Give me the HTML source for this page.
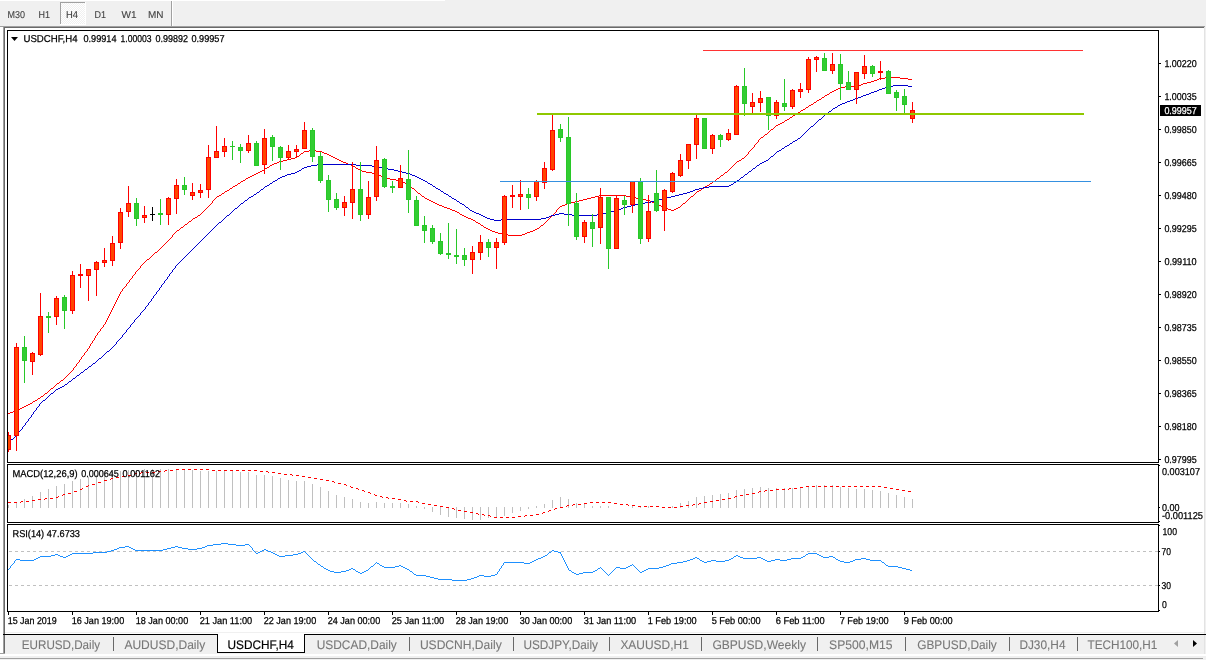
<!DOCTYPE html>
<html lang="en"><head><meta charset="utf-8"><title>USDCHF,H4</title>
<style>
html,body{margin:0;padding:0;background:#f0f0f0;overflow:hidden}
body{width:1206px;height:660px;position:relative;font-family:'Liberation Sans', sans-serif}
svg{position:absolute;left:0;top:0;display:block}
text{font-family:'Liberation Sans', sans-serif;text-rendering:geometricPrecision}
</style></head><body>
<svg width="1206" height="660" viewBox="0 0 1206 660">
<g shape-rendering="crispEdges">
<rect x="0" y="0" width="1206" height="660" fill="#f0f0f0"/>
<rect x="0" y="0" width="445" height="1" fill="#ffffff"/>
<rect x="5" y="28" width="1199" height="606" fill="#ffffff"/>
<rect x="0" y="27" width="3" height="626" fill="#ffffff"/>
<rect x="0" y="26" width="1205" height="1" fill="#a0a0a0"/>
<rect x="4" y="27" width="1200" height="1" fill="#696969"/>
<rect x="3" y="26" width="1" height="627" fill="#a0a0a0"/>
<rect x="4" y="27" width="1" height="626" fill="#696969"/>
<rect x="0" y="653" width="5" height="1" fill="#a0a0a0"/>
<rect x="1204" y="27" width="1" height="627" fill="#e3e3e3"/>
<rect x="5" y="632" width="1199" height="1" fill="#f0f0f0"/>
<rect x="3" y="634" width="1203" height="1" fill="#000000"/>
<rect x="5" y="635" width="1199" height="19" fill="#f0f0f0"/>
<rect x="0" y="654" width="1206" height="2" fill="#ffffff"/>
<rect x="0" y="658" width="1203" height="1" fill="#a0a0a0"/>
<defs><pattern id="chk" x="0" y="0" width="2" height="2" patternUnits="userSpaceOnUse"><rect width="2" height="2" fill="#f0f0f0"/><rect x="0" y="0" width="1" height="1" fill="#fff"/><rect x="1" y="1" width="1" height="1" fill="#fff"/></pattern></defs>
<rect x="61" y="3" width="24" height="21" fill="url(#chk)"/>
<rect x="60" y="2" width="25" height="1" fill="#a0a0a0"/>
<rect x="60" y="2" width="1" height="22" fill="#a0a0a0"/>
<rect x="85" y="2" width="1" height="23" fill="#ffffff"/>
<rect x="60" y="24" width="26" height="1" fill="#ffffff"/>
<rect x="171" y="1" width="1" height="25" fill="#a0a0a0"/>
<rect x="172" y="1" width="1" height="25" fill="#ffffff"/>
<rect x="7" y="30" width="1152" height="1" fill="#000"/>
<rect x="7" y="462" width="1152" height="1" fill="#000"/>
<rect x="7" y="30" width="1" height="433" fill="#000"/>
<rect x="1158" y="30" width="1" height="433" fill="#000"/>
<rect x="7" y="464" width="1152" height="1" fill="#000"/>
<rect x="7" y="522" width="1152" height="1" fill="#000"/>
<rect x="7" y="464" width="1" height="59" fill="#000"/>
<rect x="1158" y="464" width="1" height="59" fill="#000"/>
<rect x="7" y="524" width="1152" height="1" fill="#000"/>
<rect x="7" y="611" width="1152" height="1" fill="#000"/>
<rect x="7" y="524" width="1" height="88" fill="#000"/>
<rect x="1158" y="524" width="1" height="88" fill="#000"/>
<rect x="1159" y="63" width="2" height="1" fill="#000"/>
<rect x="1159" y="96" width="2" height="1" fill="#000"/>
<rect x="1159" y="129" width="2" height="1" fill="#000"/>
<rect x="1159" y="162" width="2" height="1" fill="#000"/>
<rect x="1159" y="195" width="2" height="1" fill="#000"/>
<rect x="1159" y="228" width="2" height="1" fill="#000"/>
<rect x="1159" y="261" width="2" height="1" fill="#000"/>
<rect x="1159" y="294" width="2" height="1" fill="#000"/>
<rect x="1159" y="327" width="2" height="1" fill="#000"/>
<rect x="1159" y="360" width="2" height="1" fill="#000"/>
<rect x="1159" y="393" width="2" height="1" fill="#000"/>
<rect x="1159" y="426" width="2" height="1" fill="#000"/>
<rect x="1159" y="459" width="2" height="1" fill="#000"/>
<rect x="1159" y="465" width="1" height="1" fill="#000"/>
<rect x="1159" y="507" width="1" height="1" fill="#000"/>
<rect x="1159" y="521" width="1" height="1" fill="#000"/>
<rect x="1159" y="525" width="1" height="1" fill="#000"/>
<rect x="1159" y="551" width="1" height="1" fill="#000"/>
<rect x="1159" y="585" width="1" height="1" fill="#000"/>
<rect x="1159" y="610" width="1" height="1" fill="#000"/>
<rect x="8" y="612" width="1" height="3" fill="#000"/>
<rect x="72" y="612" width="1" height="3" fill="#000"/>
<rect x="136" y="612" width="1" height="3" fill="#000"/>
<rect x="200" y="612" width="1" height="3" fill="#000"/>
<rect x="264" y="612" width="1" height="3" fill="#000"/>
<rect x="328" y="612" width="1" height="3" fill="#000"/>
<rect x="392" y="612" width="1" height="3" fill="#000"/>
<rect x="456" y="612" width="1" height="3" fill="#000"/>
<rect x="520" y="612" width="1" height="3" fill="#000"/>
<rect x="584" y="612" width="1" height="3" fill="#000"/>
<rect x="648" y="612" width="1" height="3" fill="#000"/>
<rect x="712" y="612" width="1" height="3" fill="#000"/>
<rect x="776" y="612" width="1" height="3" fill="#000"/>
<rect x="840" y="612" width="1" height="3" fill="#000"/>
<rect x="904" y="612" width="1" height="3" fill="#000"/>
<rect x="9" y="551" width="3" height="1" fill="#c0c0c0"/>
<rect x="15" y="551" width="3" height="1" fill="#c0c0c0"/>
<rect x="21" y="551" width="3" height="1" fill="#c0c0c0"/>
<rect x="27" y="551" width="3" height="1" fill="#c0c0c0"/>
<rect x="33" y="551" width="3" height="1" fill="#c0c0c0"/>
<rect x="39" y="551" width="3" height="1" fill="#c0c0c0"/>
<rect x="45" y="551" width="3" height="1" fill="#c0c0c0"/>
<rect x="51" y="551" width="3" height="1" fill="#c0c0c0"/>
<rect x="57" y="551" width="3" height="1" fill="#c0c0c0"/>
<rect x="63" y="551" width="3" height="1" fill="#c0c0c0"/>
<rect x="69" y="551" width="3" height="1" fill="#c0c0c0"/>
<rect x="75" y="551" width="3" height="1" fill="#c0c0c0"/>
<rect x="81" y="551" width="3" height="1" fill="#c0c0c0"/>
<rect x="87" y="551" width="3" height="1" fill="#c0c0c0"/>
<rect x="93" y="551" width="3" height="1" fill="#c0c0c0"/>
<rect x="99" y="551" width="3" height="1" fill="#c0c0c0"/>
<rect x="105" y="551" width="3" height="1" fill="#c0c0c0"/>
<rect x="111" y="551" width="3" height="1" fill="#c0c0c0"/>
<rect x="117" y="551" width="3" height="1" fill="#c0c0c0"/>
<rect x="123" y="551" width="3" height="1" fill="#c0c0c0"/>
<rect x="129" y="551" width="3" height="1" fill="#c0c0c0"/>
<rect x="135" y="551" width="3" height="1" fill="#c0c0c0"/>
<rect x="141" y="551" width="3" height="1" fill="#c0c0c0"/>
<rect x="147" y="551" width="3" height="1" fill="#c0c0c0"/>
<rect x="153" y="551" width="3" height="1" fill="#c0c0c0"/>
<rect x="159" y="551" width="3" height="1" fill="#c0c0c0"/>
<rect x="165" y="551" width="3" height="1" fill="#c0c0c0"/>
<rect x="171" y="551" width="3" height="1" fill="#c0c0c0"/>
<rect x="177" y="551" width="3" height="1" fill="#c0c0c0"/>
<rect x="183" y="551" width="3" height="1" fill="#c0c0c0"/>
<rect x="189" y="551" width="3" height="1" fill="#c0c0c0"/>
<rect x="195" y="551" width="3" height="1" fill="#c0c0c0"/>
<rect x="201" y="551" width="3" height="1" fill="#c0c0c0"/>
<rect x="207" y="551" width="3" height="1" fill="#c0c0c0"/>
<rect x="213" y="551" width="3" height="1" fill="#c0c0c0"/>
<rect x="219" y="551" width="3" height="1" fill="#c0c0c0"/>
<rect x="225" y="551" width="3" height="1" fill="#c0c0c0"/>
<rect x="231" y="551" width="3" height="1" fill="#c0c0c0"/>
<rect x="237" y="551" width="3" height="1" fill="#c0c0c0"/>
<rect x="243" y="551" width="3" height="1" fill="#c0c0c0"/>
<rect x="249" y="551" width="3" height="1" fill="#c0c0c0"/>
<rect x="255" y="551" width="3" height="1" fill="#c0c0c0"/>
<rect x="261" y="551" width="3" height="1" fill="#c0c0c0"/>
<rect x="267" y="551" width="3" height="1" fill="#c0c0c0"/>
<rect x="273" y="551" width="3" height="1" fill="#c0c0c0"/>
<rect x="279" y="551" width="3" height="1" fill="#c0c0c0"/>
<rect x="285" y="551" width="3" height="1" fill="#c0c0c0"/>
<rect x="291" y="551" width="3" height="1" fill="#c0c0c0"/>
<rect x="297" y="551" width="3" height="1" fill="#c0c0c0"/>
<rect x="303" y="551" width="3" height="1" fill="#c0c0c0"/>
<rect x="309" y="551" width="3" height="1" fill="#c0c0c0"/>
<rect x="315" y="551" width="3" height="1" fill="#c0c0c0"/>
<rect x="321" y="551" width="3" height="1" fill="#c0c0c0"/>
<rect x="327" y="551" width="3" height="1" fill="#c0c0c0"/>
<rect x="333" y="551" width="3" height="1" fill="#c0c0c0"/>
<rect x="339" y="551" width="3" height="1" fill="#c0c0c0"/>
<rect x="345" y="551" width="3" height="1" fill="#c0c0c0"/>
<rect x="351" y="551" width="3" height="1" fill="#c0c0c0"/>
<rect x="357" y="551" width="3" height="1" fill="#c0c0c0"/>
<rect x="363" y="551" width="3" height="1" fill="#c0c0c0"/>
<rect x="369" y="551" width="3" height="1" fill="#c0c0c0"/>
<rect x="375" y="551" width="3" height="1" fill="#c0c0c0"/>
<rect x="381" y="551" width="3" height="1" fill="#c0c0c0"/>
<rect x="387" y="551" width="3" height="1" fill="#c0c0c0"/>
<rect x="393" y="551" width="3" height="1" fill="#c0c0c0"/>
<rect x="399" y="551" width="3" height="1" fill="#c0c0c0"/>
<rect x="405" y="551" width="3" height="1" fill="#c0c0c0"/>
<rect x="411" y="551" width="3" height="1" fill="#c0c0c0"/>
<rect x="417" y="551" width="3" height="1" fill="#c0c0c0"/>
<rect x="423" y="551" width="3" height="1" fill="#c0c0c0"/>
<rect x="429" y="551" width="3" height="1" fill="#c0c0c0"/>
<rect x="435" y="551" width="3" height="1" fill="#c0c0c0"/>
<rect x="441" y="551" width="3" height="1" fill="#c0c0c0"/>
<rect x="447" y="551" width="3" height="1" fill="#c0c0c0"/>
<rect x="453" y="551" width="3" height="1" fill="#c0c0c0"/>
<rect x="459" y="551" width="3" height="1" fill="#c0c0c0"/>
<rect x="465" y="551" width="3" height="1" fill="#c0c0c0"/>
<rect x="471" y="551" width="3" height="1" fill="#c0c0c0"/>
<rect x="477" y="551" width="3" height="1" fill="#c0c0c0"/>
<rect x="483" y="551" width="3" height="1" fill="#c0c0c0"/>
<rect x="489" y="551" width="3" height="1" fill="#c0c0c0"/>
<rect x="495" y="551" width="3" height="1" fill="#c0c0c0"/>
<rect x="501" y="551" width="3" height="1" fill="#c0c0c0"/>
<rect x="507" y="551" width="3" height="1" fill="#c0c0c0"/>
<rect x="513" y="551" width="3" height="1" fill="#c0c0c0"/>
<rect x="519" y="551" width="3" height="1" fill="#c0c0c0"/>
<rect x="525" y="551" width="3" height="1" fill="#c0c0c0"/>
<rect x="531" y="551" width="3" height="1" fill="#c0c0c0"/>
<rect x="537" y="551" width="3" height="1" fill="#c0c0c0"/>
<rect x="543" y="551" width="3" height="1" fill="#c0c0c0"/>
<rect x="549" y="551" width="3" height="1" fill="#c0c0c0"/>
<rect x="555" y="551" width="3" height="1" fill="#c0c0c0"/>
<rect x="561" y="551" width="3" height="1" fill="#c0c0c0"/>
<rect x="567" y="551" width="3" height="1" fill="#c0c0c0"/>
<rect x="573" y="551" width="3" height="1" fill="#c0c0c0"/>
<rect x="579" y="551" width="3" height="1" fill="#c0c0c0"/>
<rect x="585" y="551" width="3" height="1" fill="#c0c0c0"/>
<rect x="591" y="551" width="3" height="1" fill="#c0c0c0"/>
<rect x="597" y="551" width="3" height="1" fill="#c0c0c0"/>
<rect x="603" y="551" width="3" height="1" fill="#c0c0c0"/>
<rect x="609" y="551" width="3" height="1" fill="#c0c0c0"/>
<rect x="615" y="551" width="3" height="1" fill="#c0c0c0"/>
<rect x="621" y="551" width="3" height="1" fill="#c0c0c0"/>
<rect x="627" y="551" width="3" height="1" fill="#c0c0c0"/>
<rect x="633" y="551" width="3" height="1" fill="#c0c0c0"/>
<rect x="639" y="551" width="3" height="1" fill="#c0c0c0"/>
<rect x="645" y="551" width="3" height="1" fill="#c0c0c0"/>
<rect x="651" y="551" width="3" height="1" fill="#c0c0c0"/>
<rect x="657" y="551" width="3" height="1" fill="#c0c0c0"/>
<rect x="663" y="551" width="3" height="1" fill="#c0c0c0"/>
<rect x="669" y="551" width="3" height="1" fill="#c0c0c0"/>
<rect x="675" y="551" width="3" height="1" fill="#c0c0c0"/>
<rect x="681" y="551" width="3" height="1" fill="#c0c0c0"/>
<rect x="687" y="551" width="3" height="1" fill="#c0c0c0"/>
<rect x="693" y="551" width="3" height="1" fill="#c0c0c0"/>
<rect x="699" y="551" width="3" height="1" fill="#c0c0c0"/>
<rect x="705" y="551" width="3" height="1" fill="#c0c0c0"/>
<rect x="711" y="551" width="3" height="1" fill="#c0c0c0"/>
<rect x="717" y="551" width="3" height="1" fill="#c0c0c0"/>
<rect x="723" y="551" width="3" height="1" fill="#c0c0c0"/>
<rect x="729" y="551" width="3" height="1" fill="#c0c0c0"/>
<rect x="735" y="551" width="3" height="1" fill="#c0c0c0"/>
<rect x="741" y="551" width="3" height="1" fill="#c0c0c0"/>
<rect x="747" y="551" width="3" height="1" fill="#c0c0c0"/>
<rect x="753" y="551" width="3" height="1" fill="#c0c0c0"/>
<rect x="759" y="551" width="3" height="1" fill="#c0c0c0"/>
<rect x="765" y="551" width="3" height="1" fill="#c0c0c0"/>
<rect x="771" y="551" width="3" height="1" fill="#c0c0c0"/>
<rect x="777" y="551" width="3" height="1" fill="#c0c0c0"/>
<rect x="783" y="551" width="3" height="1" fill="#c0c0c0"/>
<rect x="789" y="551" width="3" height="1" fill="#c0c0c0"/>
<rect x="795" y="551" width="3" height="1" fill="#c0c0c0"/>
<rect x="801" y="551" width="3" height="1" fill="#c0c0c0"/>
<rect x="807" y="551" width="3" height="1" fill="#c0c0c0"/>
<rect x="813" y="551" width="3" height="1" fill="#c0c0c0"/>
<rect x="819" y="551" width="3" height="1" fill="#c0c0c0"/>
<rect x="825" y="551" width="3" height="1" fill="#c0c0c0"/>
<rect x="831" y="551" width="3" height="1" fill="#c0c0c0"/>
<rect x="837" y="551" width="3" height="1" fill="#c0c0c0"/>
<rect x="843" y="551" width="3" height="1" fill="#c0c0c0"/>
<rect x="849" y="551" width="3" height="1" fill="#c0c0c0"/>
<rect x="855" y="551" width="3" height="1" fill="#c0c0c0"/>
<rect x="861" y="551" width="3" height="1" fill="#c0c0c0"/>
<rect x="867" y="551" width="3" height="1" fill="#c0c0c0"/>
<rect x="873" y="551" width="3" height="1" fill="#c0c0c0"/>
<rect x="879" y="551" width="3" height="1" fill="#c0c0c0"/>
<rect x="885" y="551" width="3" height="1" fill="#c0c0c0"/>
<rect x="891" y="551" width="3" height="1" fill="#c0c0c0"/>
<rect x="897" y="551" width="3" height="1" fill="#c0c0c0"/>
<rect x="903" y="551" width="3" height="1" fill="#c0c0c0"/>
<rect x="909" y="551" width="3" height="1" fill="#c0c0c0"/>
<rect x="915" y="551" width="3" height="1" fill="#c0c0c0"/>
<rect x="921" y="551" width="3" height="1" fill="#c0c0c0"/>
<rect x="927" y="551" width="3" height="1" fill="#c0c0c0"/>
<rect x="933" y="551" width="3" height="1" fill="#c0c0c0"/>
<rect x="939" y="551" width="3" height="1" fill="#c0c0c0"/>
<rect x="945" y="551" width="3" height="1" fill="#c0c0c0"/>
<rect x="951" y="551" width="3" height="1" fill="#c0c0c0"/>
<rect x="957" y="551" width="3" height="1" fill="#c0c0c0"/>
<rect x="963" y="551" width="3" height="1" fill="#c0c0c0"/>
<rect x="969" y="551" width="3" height="1" fill="#c0c0c0"/>
<rect x="975" y="551" width="3" height="1" fill="#c0c0c0"/>
<rect x="981" y="551" width="3" height="1" fill="#c0c0c0"/>
<rect x="987" y="551" width="3" height="1" fill="#c0c0c0"/>
<rect x="993" y="551" width="3" height="1" fill="#c0c0c0"/>
<rect x="999" y="551" width="3" height="1" fill="#c0c0c0"/>
<rect x="1005" y="551" width="3" height="1" fill="#c0c0c0"/>
<rect x="1011" y="551" width="3" height="1" fill="#c0c0c0"/>
<rect x="1017" y="551" width="3" height="1" fill="#c0c0c0"/>
<rect x="1023" y="551" width="3" height="1" fill="#c0c0c0"/>
<rect x="1029" y="551" width="3" height="1" fill="#c0c0c0"/>
<rect x="1035" y="551" width="3" height="1" fill="#c0c0c0"/>
<rect x="1041" y="551" width="3" height="1" fill="#c0c0c0"/>
<rect x="1047" y="551" width="3" height="1" fill="#c0c0c0"/>
<rect x="1053" y="551" width="3" height="1" fill="#c0c0c0"/>
<rect x="1059" y="551" width="3" height="1" fill="#c0c0c0"/>
<rect x="1065" y="551" width="3" height="1" fill="#c0c0c0"/>
<rect x="1071" y="551" width="3" height="1" fill="#c0c0c0"/>
<rect x="1077" y="551" width="3" height="1" fill="#c0c0c0"/>
<rect x="1083" y="551" width="3" height="1" fill="#c0c0c0"/>
<rect x="1089" y="551" width="3" height="1" fill="#c0c0c0"/>
<rect x="1095" y="551" width="3" height="1" fill="#c0c0c0"/>
<rect x="1101" y="551" width="3" height="1" fill="#c0c0c0"/>
<rect x="1107" y="551" width="3" height="1" fill="#c0c0c0"/>
<rect x="1113" y="551" width="3" height="1" fill="#c0c0c0"/>
<rect x="1119" y="551" width="3" height="1" fill="#c0c0c0"/>
<rect x="1125" y="551" width="3" height="1" fill="#c0c0c0"/>
<rect x="1131" y="551" width="3" height="1" fill="#c0c0c0"/>
<rect x="1137" y="551" width="3" height="1" fill="#c0c0c0"/>
<rect x="1143" y="551" width="3" height="1" fill="#c0c0c0"/>
<rect x="1149" y="551" width="3" height="1" fill="#c0c0c0"/>
<rect x="1155" y="551" width="3" height="1" fill="#c0c0c0"/>
<rect x="9" y="585" width="3" height="1" fill="#c0c0c0"/>
<rect x="15" y="585" width="3" height="1" fill="#c0c0c0"/>
<rect x="21" y="585" width="3" height="1" fill="#c0c0c0"/>
<rect x="27" y="585" width="3" height="1" fill="#c0c0c0"/>
<rect x="33" y="585" width="3" height="1" fill="#c0c0c0"/>
<rect x="39" y="585" width="3" height="1" fill="#c0c0c0"/>
<rect x="45" y="585" width="3" height="1" fill="#c0c0c0"/>
<rect x="51" y="585" width="3" height="1" fill="#c0c0c0"/>
<rect x="57" y="585" width="3" height="1" fill="#c0c0c0"/>
<rect x="63" y="585" width="3" height="1" fill="#c0c0c0"/>
<rect x="69" y="585" width="3" height="1" fill="#c0c0c0"/>
<rect x="75" y="585" width="3" height="1" fill="#c0c0c0"/>
<rect x="81" y="585" width="3" height="1" fill="#c0c0c0"/>
<rect x="87" y="585" width="3" height="1" fill="#c0c0c0"/>
<rect x="93" y="585" width="3" height="1" fill="#c0c0c0"/>
<rect x="99" y="585" width="3" height="1" fill="#c0c0c0"/>
<rect x="105" y="585" width="3" height="1" fill="#c0c0c0"/>
<rect x="111" y="585" width="3" height="1" fill="#c0c0c0"/>
<rect x="117" y="585" width="3" height="1" fill="#c0c0c0"/>
<rect x="123" y="585" width="3" height="1" fill="#c0c0c0"/>
<rect x="129" y="585" width="3" height="1" fill="#c0c0c0"/>
<rect x="135" y="585" width="3" height="1" fill="#c0c0c0"/>
<rect x="141" y="585" width="3" height="1" fill="#c0c0c0"/>
<rect x="147" y="585" width="3" height="1" fill="#c0c0c0"/>
<rect x="153" y="585" width="3" height="1" fill="#c0c0c0"/>
<rect x="159" y="585" width="3" height="1" fill="#c0c0c0"/>
<rect x="165" y="585" width="3" height="1" fill="#c0c0c0"/>
<rect x="171" y="585" width="3" height="1" fill="#c0c0c0"/>
<rect x="177" y="585" width="3" height="1" fill="#c0c0c0"/>
<rect x="183" y="585" width="3" height="1" fill="#c0c0c0"/>
<rect x="189" y="585" width="3" height="1" fill="#c0c0c0"/>
<rect x="195" y="585" width="3" height="1" fill="#c0c0c0"/>
<rect x="201" y="585" width="3" height="1" fill="#c0c0c0"/>
<rect x="207" y="585" width="3" height="1" fill="#c0c0c0"/>
<rect x="213" y="585" width="3" height="1" fill="#c0c0c0"/>
<rect x="219" y="585" width="3" height="1" fill="#c0c0c0"/>
<rect x="225" y="585" width="3" height="1" fill="#c0c0c0"/>
<rect x="231" y="585" width="3" height="1" fill="#c0c0c0"/>
<rect x="237" y="585" width="3" height="1" fill="#c0c0c0"/>
<rect x="243" y="585" width="3" height="1" fill="#c0c0c0"/>
<rect x="249" y="585" width="3" height="1" fill="#c0c0c0"/>
<rect x="255" y="585" width="3" height="1" fill="#c0c0c0"/>
<rect x="261" y="585" width="3" height="1" fill="#c0c0c0"/>
<rect x="267" y="585" width="3" height="1" fill="#c0c0c0"/>
<rect x="273" y="585" width="3" height="1" fill="#c0c0c0"/>
<rect x="279" y="585" width="3" height="1" fill="#c0c0c0"/>
<rect x="285" y="585" width="3" height="1" fill="#c0c0c0"/>
<rect x="291" y="585" width="3" height="1" fill="#c0c0c0"/>
<rect x="297" y="585" width="3" height="1" fill="#c0c0c0"/>
<rect x="303" y="585" width="3" height="1" fill="#c0c0c0"/>
<rect x="309" y="585" width="3" height="1" fill="#c0c0c0"/>
<rect x="315" y="585" width="3" height="1" fill="#c0c0c0"/>
<rect x="321" y="585" width="3" height="1" fill="#c0c0c0"/>
<rect x="327" y="585" width="3" height="1" fill="#c0c0c0"/>
<rect x="333" y="585" width="3" height="1" fill="#c0c0c0"/>
<rect x="339" y="585" width="3" height="1" fill="#c0c0c0"/>
<rect x="345" y="585" width="3" height="1" fill="#c0c0c0"/>
<rect x="351" y="585" width="3" height="1" fill="#c0c0c0"/>
<rect x="357" y="585" width="3" height="1" fill="#c0c0c0"/>
<rect x="363" y="585" width="3" height="1" fill="#c0c0c0"/>
<rect x="369" y="585" width="3" height="1" fill="#c0c0c0"/>
<rect x="375" y="585" width="3" height="1" fill="#c0c0c0"/>
<rect x="381" y="585" width="3" height="1" fill="#c0c0c0"/>
<rect x="387" y="585" width="3" height="1" fill="#c0c0c0"/>
<rect x="393" y="585" width="3" height="1" fill="#c0c0c0"/>
<rect x="399" y="585" width="3" height="1" fill="#c0c0c0"/>
<rect x="405" y="585" width="3" height="1" fill="#c0c0c0"/>
<rect x="411" y="585" width="3" height="1" fill="#c0c0c0"/>
<rect x="417" y="585" width="3" height="1" fill="#c0c0c0"/>
<rect x="423" y="585" width="3" height="1" fill="#c0c0c0"/>
<rect x="429" y="585" width="3" height="1" fill="#c0c0c0"/>
<rect x="435" y="585" width="3" height="1" fill="#c0c0c0"/>
<rect x="441" y="585" width="3" height="1" fill="#c0c0c0"/>
<rect x="447" y="585" width="3" height="1" fill="#c0c0c0"/>
<rect x="453" y="585" width="3" height="1" fill="#c0c0c0"/>
<rect x="459" y="585" width="3" height="1" fill="#c0c0c0"/>
<rect x="465" y="585" width="3" height="1" fill="#c0c0c0"/>
<rect x="471" y="585" width="3" height="1" fill="#c0c0c0"/>
<rect x="477" y="585" width="3" height="1" fill="#c0c0c0"/>
<rect x="483" y="585" width="3" height="1" fill="#c0c0c0"/>
<rect x="489" y="585" width="3" height="1" fill="#c0c0c0"/>
<rect x="495" y="585" width="3" height="1" fill="#c0c0c0"/>
<rect x="501" y="585" width="3" height="1" fill="#c0c0c0"/>
<rect x="507" y="585" width="3" height="1" fill="#c0c0c0"/>
<rect x="513" y="585" width="3" height="1" fill="#c0c0c0"/>
<rect x="519" y="585" width="3" height="1" fill="#c0c0c0"/>
<rect x="525" y="585" width="3" height="1" fill="#c0c0c0"/>
<rect x="531" y="585" width="3" height="1" fill="#c0c0c0"/>
<rect x="537" y="585" width="3" height="1" fill="#c0c0c0"/>
<rect x="543" y="585" width="3" height="1" fill="#c0c0c0"/>
<rect x="549" y="585" width="3" height="1" fill="#c0c0c0"/>
<rect x="555" y="585" width="3" height="1" fill="#c0c0c0"/>
<rect x="561" y="585" width="3" height="1" fill="#c0c0c0"/>
<rect x="567" y="585" width="3" height="1" fill="#c0c0c0"/>
<rect x="573" y="585" width="3" height="1" fill="#c0c0c0"/>
<rect x="579" y="585" width="3" height="1" fill="#c0c0c0"/>
<rect x="585" y="585" width="3" height="1" fill="#c0c0c0"/>
<rect x="591" y="585" width="3" height="1" fill="#c0c0c0"/>
<rect x="597" y="585" width="3" height="1" fill="#c0c0c0"/>
<rect x="603" y="585" width="3" height="1" fill="#c0c0c0"/>
<rect x="609" y="585" width="3" height="1" fill="#c0c0c0"/>
<rect x="615" y="585" width="3" height="1" fill="#c0c0c0"/>
<rect x="621" y="585" width="3" height="1" fill="#c0c0c0"/>
<rect x="627" y="585" width="3" height="1" fill="#c0c0c0"/>
<rect x="633" y="585" width="3" height="1" fill="#c0c0c0"/>
<rect x="639" y="585" width="3" height="1" fill="#c0c0c0"/>
<rect x="645" y="585" width="3" height="1" fill="#c0c0c0"/>
<rect x="651" y="585" width="3" height="1" fill="#c0c0c0"/>
<rect x="657" y="585" width="3" height="1" fill="#c0c0c0"/>
<rect x="663" y="585" width="3" height="1" fill="#c0c0c0"/>
<rect x="669" y="585" width="3" height="1" fill="#c0c0c0"/>
<rect x="675" y="585" width="3" height="1" fill="#c0c0c0"/>
<rect x="681" y="585" width="3" height="1" fill="#c0c0c0"/>
<rect x="687" y="585" width="3" height="1" fill="#c0c0c0"/>
<rect x="693" y="585" width="3" height="1" fill="#c0c0c0"/>
<rect x="699" y="585" width="3" height="1" fill="#c0c0c0"/>
<rect x="705" y="585" width="3" height="1" fill="#c0c0c0"/>
<rect x="711" y="585" width="3" height="1" fill="#c0c0c0"/>
<rect x="717" y="585" width="3" height="1" fill="#c0c0c0"/>
<rect x="723" y="585" width="3" height="1" fill="#c0c0c0"/>
<rect x="729" y="585" width="3" height="1" fill="#c0c0c0"/>
<rect x="735" y="585" width="3" height="1" fill="#c0c0c0"/>
<rect x="741" y="585" width="3" height="1" fill="#c0c0c0"/>
<rect x="747" y="585" width="3" height="1" fill="#c0c0c0"/>
<rect x="753" y="585" width="3" height="1" fill="#c0c0c0"/>
<rect x="759" y="585" width="3" height="1" fill="#c0c0c0"/>
<rect x="765" y="585" width="3" height="1" fill="#c0c0c0"/>
<rect x="771" y="585" width="3" height="1" fill="#c0c0c0"/>
<rect x="777" y="585" width="3" height="1" fill="#c0c0c0"/>
<rect x="783" y="585" width="3" height="1" fill="#c0c0c0"/>
<rect x="789" y="585" width="3" height="1" fill="#c0c0c0"/>
<rect x="795" y="585" width="3" height="1" fill="#c0c0c0"/>
<rect x="801" y="585" width="3" height="1" fill="#c0c0c0"/>
<rect x="807" y="585" width="3" height="1" fill="#c0c0c0"/>
<rect x="813" y="585" width="3" height="1" fill="#c0c0c0"/>
<rect x="819" y="585" width="3" height="1" fill="#c0c0c0"/>
<rect x="825" y="585" width="3" height="1" fill="#c0c0c0"/>
<rect x="831" y="585" width="3" height="1" fill="#c0c0c0"/>
<rect x="837" y="585" width="3" height="1" fill="#c0c0c0"/>
<rect x="843" y="585" width="3" height="1" fill="#c0c0c0"/>
<rect x="849" y="585" width="3" height="1" fill="#c0c0c0"/>
<rect x="855" y="585" width="3" height="1" fill="#c0c0c0"/>
<rect x="861" y="585" width="3" height="1" fill="#c0c0c0"/>
<rect x="867" y="585" width="3" height="1" fill="#c0c0c0"/>
<rect x="873" y="585" width="3" height="1" fill="#c0c0c0"/>
<rect x="879" y="585" width="3" height="1" fill="#c0c0c0"/>
<rect x="885" y="585" width="3" height="1" fill="#c0c0c0"/>
<rect x="891" y="585" width="3" height="1" fill="#c0c0c0"/>
<rect x="897" y="585" width="3" height="1" fill="#c0c0c0"/>
<rect x="903" y="585" width="3" height="1" fill="#c0c0c0"/>
<rect x="909" y="585" width="3" height="1" fill="#c0c0c0"/>
<rect x="915" y="585" width="3" height="1" fill="#c0c0c0"/>
<rect x="921" y="585" width="3" height="1" fill="#c0c0c0"/>
<rect x="927" y="585" width="3" height="1" fill="#c0c0c0"/>
<rect x="933" y="585" width="3" height="1" fill="#c0c0c0"/>
<rect x="939" y="585" width="3" height="1" fill="#c0c0c0"/>
<rect x="945" y="585" width="3" height="1" fill="#c0c0c0"/>
<rect x="951" y="585" width="3" height="1" fill="#c0c0c0"/>
<rect x="957" y="585" width="3" height="1" fill="#c0c0c0"/>
<rect x="963" y="585" width="3" height="1" fill="#c0c0c0"/>
<rect x="969" y="585" width="3" height="1" fill="#c0c0c0"/>
<rect x="975" y="585" width="3" height="1" fill="#c0c0c0"/>
<rect x="981" y="585" width="3" height="1" fill="#c0c0c0"/>
<rect x="987" y="585" width="3" height="1" fill="#c0c0c0"/>
<rect x="993" y="585" width="3" height="1" fill="#c0c0c0"/>
<rect x="999" y="585" width="3" height="1" fill="#c0c0c0"/>
<rect x="1005" y="585" width="3" height="1" fill="#c0c0c0"/>
<rect x="1011" y="585" width="3" height="1" fill="#c0c0c0"/>
<rect x="1017" y="585" width="3" height="1" fill="#c0c0c0"/>
<rect x="1023" y="585" width="3" height="1" fill="#c0c0c0"/>
<rect x="1029" y="585" width="3" height="1" fill="#c0c0c0"/>
<rect x="1035" y="585" width="3" height="1" fill="#c0c0c0"/>
<rect x="1041" y="585" width="3" height="1" fill="#c0c0c0"/>
<rect x="1047" y="585" width="3" height="1" fill="#c0c0c0"/>
<rect x="1053" y="585" width="3" height="1" fill="#c0c0c0"/>
<rect x="1059" y="585" width="3" height="1" fill="#c0c0c0"/>
<rect x="1065" y="585" width="3" height="1" fill="#c0c0c0"/>
<rect x="1071" y="585" width="3" height="1" fill="#c0c0c0"/>
<rect x="1077" y="585" width="3" height="1" fill="#c0c0c0"/>
<rect x="1083" y="585" width="3" height="1" fill="#c0c0c0"/>
<rect x="1089" y="585" width="3" height="1" fill="#c0c0c0"/>
<rect x="1095" y="585" width="3" height="1" fill="#c0c0c0"/>
<rect x="1101" y="585" width="3" height="1" fill="#c0c0c0"/>
<rect x="1107" y="585" width="3" height="1" fill="#c0c0c0"/>
<rect x="1113" y="585" width="3" height="1" fill="#c0c0c0"/>
<rect x="1119" y="585" width="3" height="1" fill="#c0c0c0"/>
<rect x="1125" y="585" width="3" height="1" fill="#c0c0c0"/>
<rect x="1131" y="585" width="3" height="1" fill="#c0c0c0"/>
<rect x="1137" y="585" width="3" height="1" fill="#c0c0c0"/>
<rect x="1143" y="585" width="3" height="1" fill="#c0c0c0"/>
<rect x="1149" y="585" width="3" height="1" fill="#c0c0c0"/>
<rect x="1155" y="585" width="3" height="1" fill="#c0c0c0"/>
</g>
<defs><clipPath id="cm"><rect x="8" y="31" width="1150" height="431"/></clipPath>
<clipPath id="cd"><rect x="8" y="465" width="1150" height="57"/></clipPath>
<clipPath id="cr"><rect x="8" y="525" width="1150" height="86"/></clipPath></defs>
<g shape-rendering="crispEdges" clip-path="url(#cd)">
<rect x="8" y="505" width="1" height="3" fill="#c0c0c0"/>
<rect x="16" y="503" width="1" height="5" fill="#c0c0c0"/>
<rect x="24" y="499" width="1" height="9" fill="#c0c0c0"/>
<rect x="32" y="496" width="1" height="12" fill="#c0c0c0"/>
<rect x="40" y="492" width="1" height="16" fill="#c0c0c0"/>
<rect x="48" y="489" width="1" height="19" fill="#c0c0c0"/>
<rect x="56" y="486" width="1" height="22" fill="#c0c0c0"/>
<rect x="64" y="484" width="1" height="24" fill="#c0c0c0"/>
<rect x="72" y="481" width="1" height="27" fill="#c0c0c0"/>
<rect x="80" y="479" width="1" height="29" fill="#c0c0c0"/>
<rect x="88" y="477" width="1" height="31" fill="#c0c0c0"/>
<rect x="96" y="475" width="1" height="33" fill="#c0c0c0"/>
<rect x="104" y="474" width="1" height="34" fill="#c0c0c0"/>
<rect x="112" y="472" width="1" height="36" fill="#c0c0c0"/>
<rect x="120" y="471" width="1" height="37" fill="#c0c0c0"/>
<rect x="128" y="470" width="1" height="38" fill="#c0c0c0"/>
<rect x="136" y="470" width="1" height="38" fill="#c0c0c0"/>
<rect x="144" y="469" width="1" height="39" fill="#c0c0c0"/>
<rect x="152" y="469" width="1" height="39" fill="#c0c0c0"/>
<rect x="160" y="469" width="1" height="39" fill="#c0c0c0"/>
<rect x="168" y="469" width="1" height="39" fill="#c0c0c0"/>
<rect x="176" y="469" width="1" height="39" fill="#c0c0c0"/>
<rect x="184" y="470" width="1" height="38" fill="#c0c0c0"/>
<rect x="192" y="470" width="1" height="38" fill="#c0c0c0"/>
<rect x="200" y="471" width="1" height="37" fill="#c0c0c0"/>
<rect x="208" y="471" width="1" height="37" fill="#c0c0c0"/>
<rect x="216" y="471" width="1" height="37" fill="#c0c0c0"/>
<rect x="224" y="471" width="1" height="37" fill="#c0c0c0"/>
<rect x="232" y="471" width="1" height="37" fill="#c0c0c0"/>
<rect x="240" y="472" width="1" height="36" fill="#c0c0c0"/>
<rect x="248" y="472" width="1" height="36" fill="#c0c0c0"/>
<rect x="256" y="475" width="1" height="33" fill="#c0c0c0"/>
<rect x="264" y="475" width="1" height="33" fill="#c0c0c0"/>
<rect x="272" y="476" width="1" height="32" fill="#c0c0c0"/>
<rect x="280" y="478" width="1" height="30" fill="#c0c0c0"/>
<rect x="288" y="480" width="1" height="28" fill="#c0c0c0"/>
<rect x="296" y="481" width="1" height="27" fill="#c0c0c0"/>
<rect x="304" y="481" width="1" height="27" fill="#c0c0c0"/>
<rect x="312" y="484" width="1" height="24" fill="#c0c0c0"/>
<rect x="320" y="487" width="1" height="21" fill="#c0c0c0"/>
<rect x="328" y="491" width="1" height="17" fill="#c0c0c0"/>
<rect x="336" y="495" width="1" height="13" fill="#c0c0c0"/>
<rect x="344" y="497" width="1" height="11" fill="#c0c0c0"/>
<rect x="352" y="499" width="1" height="9" fill="#c0c0c0"/>
<rect x="360" y="502" width="1" height="6" fill="#c0c0c0"/>
<rect x="368" y="503" width="1" height="5" fill="#c0c0c0"/>
<rect x="376" y="502" width="1" height="6" fill="#c0c0c0"/>
<rect x="384" y="503" width="1" height="5" fill="#c0c0c0"/>
<rect x="392" y="503" width="1" height="5" fill="#c0c0c0"/>
<rect x="400" y="503" width="1" height="5" fill="#c0c0c0"/>
<rect x="408" y="504" width="1" height="4" fill="#c0c0c0"/>
<rect x="416" y="506" width="1" height="2" fill="#c0c0c0"/>
<rect x="424" y="507" width="1" height="2" fill="#c0c0c0"/>
<rect x="432" y="507" width="1" height="5" fill="#c0c0c0"/>
<rect x="440" y="507" width="1" height="8" fill="#c0c0c0"/>
<rect x="448" y="507" width="1" height="10" fill="#c0c0c0"/>
<rect x="456" y="507" width="1" height="11" fill="#c0c0c0"/>
<rect x="464" y="507" width="1" height="12" fill="#c0c0c0"/>
<rect x="472" y="507" width="1" height="13" fill="#c0c0c0"/>
<rect x="480" y="507" width="1" height="13" fill="#c0c0c0"/>
<rect x="488" y="507" width="1" height="11" fill="#c0c0c0"/>
<rect x="496" y="507" width="1" height="11" fill="#c0c0c0"/>
<rect x="504" y="507" width="1" height="9" fill="#c0c0c0"/>
<rect x="512" y="507" width="1" height="6" fill="#c0c0c0"/>
<rect x="520" y="507" width="1" height="4" fill="#c0c0c0"/>
<rect x="528" y="507" width="1" height="2" fill="#c0c0c0"/>
<rect x="536" y="506" width="1" height="2" fill="#c0c0c0"/>
<rect x="544" y="504" width="1" height="4" fill="#c0c0c0"/>
<rect x="552" y="500" width="1" height="8" fill="#c0c0c0"/>
<rect x="560" y="497" width="1" height="11" fill="#c0c0c0"/>
<rect x="568" y="499" width="1" height="9" fill="#c0c0c0"/>
<rect x="576" y="503" width="1" height="5" fill="#c0c0c0"/>
<rect x="584" y="504" width="1" height="4" fill="#c0c0c0"/>
<rect x="592" y="506" width="1" height="2" fill="#c0c0c0"/>
<rect x="600" y="506" width="1" height="2" fill="#c0c0c0"/>
<rect x="608" y="506" width="1" height="2" fill="#c0c0c0"/>
<rect x="632" y="505" width="1" height="3" fill="#c0c0c0"/>
<rect x="640" y="506" width="1" height="2" fill="#c0c0c0"/>
<rect x="648" y="506" width="1" height="2" fill="#c0c0c0"/>
<rect x="672" y="506" width="1" height="2" fill="#c0c0c0"/>
<rect x="680" y="503" width="1" height="5" fill="#c0c0c0"/>
<rect x="688" y="501" width="1" height="7" fill="#c0c0c0"/>
<rect x="696" y="497" width="1" height="11" fill="#c0c0c0"/>
<rect x="704" y="496" width="1" height="12" fill="#c0c0c0"/>
<rect x="712" y="495" width="1" height="13" fill="#c0c0c0"/>
<rect x="720" y="494" width="1" height="14" fill="#c0c0c0"/>
<rect x="728" y="493" width="1" height="15" fill="#c0c0c0"/>
<rect x="736" y="490" width="1" height="18" fill="#c0c0c0"/>
<rect x="744" y="489" width="1" height="19" fill="#c0c0c0"/>
<rect x="752" y="488" width="1" height="20" fill="#c0c0c0"/>
<rect x="760" y="487" width="1" height="21" fill="#c0c0c0"/>
<rect x="768" y="488" width="1" height="20" fill="#c0c0c0"/>
<rect x="776" y="488" width="1" height="20" fill="#c0c0c0"/>
<rect x="784" y="488" width="1" height="20" fill="#c0c0c0"/>
<rect x="792" y="488" width="1" height="20" fill="#c0c0c0"/>
<rect x="800" y="487" width="1" height="21" fill="#c0c0c0"/>
<rect x="808" y="486" width="1" height="22" fill="#c0c0c0"/>
<rect x="816" y="485" width="1" height="23" fill="#c0c0c0"/>
<rect x="824" y="485" width="1" height="23" fill="#c0c0c0"/>
<rect x="832" y="485" width="1" height="23" fill="#c0c0c0"/>
<rect x="840" y="487" width="1" height="21" fill="#c0c0c0"/>
<rect x="848" y="488" width="1" height="20" fill="#c0c0c0"/>
<rect x="856" y="489" width="1" height="19" fill="#c0c0c0"/>
<rect x="864" y="489" width="1" height="19" fill="#c0c0c0"/>
<rect x="872" y="490" width="1" height="18" fill="#c0c0c0"/>
<rect x="880" y="491" width="1" height="17" fill="#c0c0c0"/>
<rect x="888" y="493" width="1" height="15" fill="#c0c0c0"/>
<rect x="896" y="495" width="1" height="13" fill="#c0c0c0"/>
<rect x="904" y="497" width="1" height="11" fill="#c0c0c0"/>
<rect x="912" y="499" width="1" height="9" fill="#c0c0c0"/>
</g>
<g fill="#ff0000" shape-rendering="crispEdges" clip-path="url(#cd)"><rect x="176" y="469" width="3" height="1"/><rect x="182" y="469" width="3" height="1"/><rect x="188" y="469" width="3" height="1"/><rect x="194" y="469" width="3" height="1"/><rect x="200" y="469" width="3" height="1"/><rect x="206" y="469" width="3" height="1"/><rect x="165" y="470" width="2" height="1"/><rect x="170" y="470" width="3" height="1"/><rect x="212" y="470" width="3" height="1"/><rect x="218" y="470" width="3" height="1"/><rect x="224" y="470" width="3" height="1"/><rect x="230" y="470" width="3" height="1"/><rect x="236" y="470" width="3" height="1"/><rect x="242" y="470" width="3" height="1"/><rect x="248" y="470" width="3" height="1"/><rect x="254" y="470" width="3" height="1"/><rect x="158" y="471" width="3" height="1"/><rect x="260" y="471" width="3" height="1"/><rect x="266" y="471" width="2" height="1"/><rect x="141" y="472" width="2" height="1"/><rect x="146" y="472" width="3" height="1"/><rect x="152" y="472" width="3" height="1"/><rect x="272" y="472" width="3" height="1"/><rect x="135" y="473" width="2" height="1"/><rect x="278" y="473" width="3" height="1"/><rect x="284" y="474" width="3" height="1"/><rect x="290" y="474" width="2" height="1"/><rect x="128" y="475" width="3" height="1"/><rect x="296" y="475" width="3" height="1"/><rect x="122" y="476" width="3" height="1"/><rect x="302" y="476" width="3" height="1"/><rect x="116" y="477" width="3" height="1"/><rect x="308" y="477" width="3" height="1"/><rect x="111" y="478" width="2" height="1"/><rect x="314" y="478" width="3" height="1"/><rect x="320" y="479" width="3" height="1"/><rect x="104" y="480" width="3" height="1"/><rect x="326" y="480" width="3" height="1"/><rect x="332" y="481" width="2" height="1"/><rect x="98" y="482" width="3" height="1"/><rect x="338" y="483" width="3" height="1"/><rect x="92" y="484" width="3" height="1"/><rect x="344" y="484" width="2" height="1"/><rect x="86" y="486" width="2" height="1"/><rect x="806" y="486" width="3" height="1"/><rect x="812" y="486" width="3" height="1"/><rect x="818" y="486" width="3" height="1"/><rect x="824" y="486" width="3" height="1"/><rect x="830" y="486" width="3" height="1"/><rect x="836" y="486" width="3" height="1"/><rect x="842" y="486" width="3" height="1"/><rect x="848" y="486" width="3" height="1"/><rect x="854" y="486" width="3" height="1"/><rect x="860" y="486" width="3" height="1"/><rect x="866" y="486" width="3" height="1"/><rect x="872" y="486" width="3" height="1"/><rect x="878" y="486" width="3" height="1"/><rect x="351" y="487" width="2" height="1"/><rect x="800" y="487" width="3" height="1"/><rect x="884" y="487" width="3" height="1"/><rect x="356" y="488" width="2" height="1"/><rect x="789" y="488" width="2" height="1"/><rect x="794" y="488" width="3" height="1"/><rect x="890" y="488" width="3" height="1"/><rect x="80" y="489" width="2" height="1"/><rect x="776" y="489" width="3" height="1"/><rect x="782" y="489" width="3" height="1"/><rect x="896" y="489" width="3" height="1"/><rect x="362" y="490" width="2" height="1"/><rect x="765" y="490" width="2" height="1"/><rect x="770" y="490" width="3" height="1"/><rect x="902" y="490" width="3" height="1"/><rect x="74" y="491" width="3" height="1"/><rect x="759" y="491" width="2" height="1"/><rect x="908" y="491" width="3" height="1"/><rect x="368" y="492" width="2" height="1"/><rect x="68" y="493" width="3" height="1"/><rect x="752" y="493" width="3" height="1"/><rect x="63" y="494" width="2" height="1"/><rect x="746" y="494" width="3" height="1"/><rect x="375" y="495" width="2" height="1"/><rect x="740" y="495" width="3" height="1"/><rect x="380" y="496" width="2" height="1"/><rect x="735" y="496" width="2" height="1"/><rect x="56" y="497" width="2" height="1"/><rect x="386" y="497" width="2" height="1"/><rect x="45" y="498" width="2" height="1"/><rect x="50" y="498" width="3" height="1"/><rect x="392" y="498" width="3" height="1"/><rect x="728" y="498" width="3" height="1"/><rect x="38" y="499" width="3" height="1"/><rect x="398" y="499" width="3" height="1"/><rect x="722" y="499" width="3" height="1"/><rect x="32" y="500" width="3" height="1"/><rect x="404" y="500" width="2" height="1"/><rect x="716" y="500" width="3" height="1"/><rect x="21" y="501" width="2" height="1"/><rect x="26" y="501" width="3" height="1"/><rect x="410" y="501" width="3" height="1"/><rect x="416" y="501" width="2" height="1"/><rect x="710" y="501" width="3" height="1"/><rect x="8" y="502" width="3" height="1"/><rect x="14" y="502" width="3" height="1"/><rect x="590" y="502" width="3" height="1"/><rect x="596" y="502" width="3" height="1"/><rect x="602" y="502" width="3" height="1"/><rect x="608" y="502" width="3" height="1"/><rect x="704" y="502" width="3" height="1"/><rect x="422" y="503" width="3" height="1"/><rect x="584" y="503" width="3" height="1"/><rect x="614" y="503" width="3" height="1"/><rect x="699" y="503" width="2" height="1"/><rect x="428" y="504" width="3" height="1"/><rect x="573" y="504" width="2" height="1"/><rect x="578" y="504" width="3" height="1"/><rect x="620" y="504" width="3" height="1"/><rect x="626" y="504" width="2" height="1"/><rect x="693" y="504" width="2" height="1"/><rect x="434" y="505" width="3" height="1"/><rect x="567" y="505" width="2" height="1"/><rect x="632" y="505" width="3" height="1"/><rect x="686" y="505" width="3" height="1"/><rect x="440" y="506" width="3" height="1"/><rect x="638" y="506" width="3" height="1"/><rect x="644" y="506" width="3" height="1"/><rect x="650" y="506" width="3" height="1"/><rect x="656" y="506" width="3" height="1"/><rect x="680" y="506" width="3" height="1"/><rect x="446" y="507" width="3" height="1"/><rect x="560" y="507" width="3" height="1"/><rect x="662" y="507" width="3" height="1"/><rect x="668" y="507" width="3" height="1"/><rect x="674" y="507" width="3" height="1"/><rect x="452" y="508" width="2" height="1"/><rect x="555" y="508" width="2" height="1"/><rect x="458" y="510" width="3" height="1"/><rect x="549" y="510" width="2" height="1"/><rect x="464" y="511" width="3" height="1"/><rect x="470" y="512" width="3" height="1"/><rect x="543" y="512" width="2" height="1"/><rect x="476" y="513" width="2" height="1"/><rect x="482" y="514" width="2" height="1"/><rect x="536" y="514" width="3" height="1"/><rect x="488" y="515" width="2" height="1"/><rect x="525" y="515" width="2" height="1"/><rect x="530" y="515" width="3" height="1"/><rect x="518" y="516" width="3" height="1"/><rect x="494" y="517" width="3" height="1"/><rect x="500" y="517" width="3" height="1"/><rect x="506" y="517" width="3" height="1"/><rect x="512" y="517" width="3" height="1"/><rect x="164" y="471" width="1" height="1"/><rect x="268" y="472" width="1" height="1"/><rect x="140" y="473" width="1" height="1"/><rect x="134" y="474" width="1" height="1"/><rect x="292" y="475" width="1" height="1"/><rect x="110" y="479" width="1" height="1"/><rect x="334" y="482" width="1" height="1"/><rect x="88" y="485" width="1" height="1"/><rect x="346" y="485" width="1" height="1"/><rect x="350" y="486" width="1" height="1"/><rect x="82" y="488" width="1" height="1"/><rect x="358" y="489" width="1" height="1"/><rect x="788" y="489" width="1" height="1"/><rect x="364" y="491" width="1" height="1"/><rect x="764" y="491" width="1" height="1"/><rect x="758" y="492" width="1" height="1"/><rect x="370" y="493" width="1" height="1"/><rect x="374" y="494" width="1" height="1"/><rect x="62" y="495" width="1" height="1"/><rect x="58" y="496" width="1" height="1"/><rect x="382" y="497" width="1" height="1"/><rect x="734" y="497" width="1" height="1"/><rect x="388" y="498" width="1" height="1"/><rect x="44" y="499" width="1" height="1"/><rect x="406" y="501" width="1" height="1"/><rect x="20" y="502" width="1" height="1"/><rect x="418" y="502" width="1" height="1"/><rect x="698" y="504" width="1" height="1"/><rect x="572" y="505" width="1" height="1"/><rect x="628" y="505" width="1" height="1"/><rect x="692" y="505" width="1" height="1"/><rect x="566" y="506" width="1" height="1"/><rect x="454" y="509" width="1" height="1"/><rect x="554" y="509" width="1" height="1"/><rect x="548" y="511" width="1" height="1"/><rect x="542" y="513" width="1" height="1"/><rect x="478" y="514" width="1" height="1"/><rect x="484" y="515" width="1" height="1"/><rect x="490" y="516" width="1" height="1"/><rect x="524" y="516" width="1" height="1"/></g>
<g fill="#1e90ff" shape-rendering="crispEdges" clip-path="url(#cr)"><rect x="221" y="543" width="7" height="1"/><rect x="213" y="544" width="8" height="1"/><rect x="228" y="544" width="8" height="1"/><rect x="245" y="544" width="4" height="1"/><rect x="207" y="545" width="6" height="1"/><rect x="236" y="545" width="9" height="1"/><rect x="125" y="546" width="4" height="1"/><rect x="175" y="546" width="3" height="1"/><rect x="205" y="546" width="2" height="1"/><rect x="119" y="547" width="6" height="1"/><rect x="129" y="547" width="2" height="1"/><rect x="171" y="547" width="4" height="1"/><rect x="178" y="547" width="4" height="1"/><rect x="202" y="547" width="3" height="1"/><rect x="117" y="548" width="2" height="1"/><rect x="131" y="548" width="2" height="1"/><rect x="167" y="548" width="4" height="1"/><rect x="182" y="548" width="6" height="1"/><rect x="197" y="548" width="5" height="1"/><rect x="114" y="549" width="3" height="1"/><rect x="133" y="549" width="2" height="1"/><rect x="163" y="549" width="4" height="1"/><rect x="188" y="549" width="9" height="1"/><rect x="264" y="549" width="2" height="1"/><rect x="111" y="550" width="3" height="1"/><rect x="135" y="550" width="28" height="1"/><rect x="262" y="550" width="2" height="1"/><rect x="266" y="550" width="2" height="1"/><rect x="552" y="550" width="2" height="1"/><rect x="107" y="551" width="4" height="1"/><rect x="260" y="551" width="2" height="1"/><rect x="268" y="551" width="3" height="1"/><rect x="303" y="551" width="2" height="1"/><rect x="554" y="551" width="4" height="1"/><rect x="93" y="552" width="14" height="1"/><rect x="258" y="552" width="2" height="1"/><rect x="271" y="552" width="2" height="1"/><rect x="301" y="552" width="2" height="1"/><rect x="549" y="552" width="2" height="1"/><rect x="558" y="552" width="3" height="1"/><rect x="72" y="553" width="21" height="1"/><rect x="256" y="553" width="2" height="1"/><rect x="273" y="553" width="2" height="1"/><rect x="298" y="553" width="3" height="1"/><rect x="808" y="553" width="9" height="1"/><rect x="55" y="554" width="3" height="1"/><rect x="70" y="554" width="2" height="1"/><rect x="275" y="554" width="2" height="1"/><rect x="293" y="554" width="5" height="1"/><rect x="806" y="554" width="2" height="1"/><rect x="817" y="554" width="2" height="1"/><rect x="51" y="555" width="4" height="1"/><rect x="58" y="555" width="2" height="1"/><rect x="68" y="555" width="2" height="1"/><rect x="277" y="555" width="2" height="1"/><rect x="285" y="555" width="8" height="1"/><rect x="545" y="555" width="2" height="1"/><rect x="736" y="555" width="2" height="1"/><rect x="819" y="555" width="2" height="1"/><rect x="40" y="556" width="11" height="1"/><rect x="60" y="556" width="3" height="1"/><rect x="66" y="556" width="2" height="1"/><rect x="279" y="556" width="6" height="1"/><rect x="543" y="556" width="2" height="1"/><rect x="734" y="556" width="2" height="1"/><rect x="738" y="556" width="2" height="1"/><rect x="803" y="556" width="2" height="1"/><rect x="821" y="556" width="2" height="1"/><rect x="829" y="556" width="4" height="1"/><rect x="38" y="557" width="2" height="1"/><rect x="63" y="557" width="3" height="1"/><rect x="541" y="557" width="2" height="1"/><rect x="695" y="557" width="2" height="1"/><rect x="740" y="557" width="3" height="1"/><rect x="757" y="557" width="4" height="1"/><rect x="801" y="557" width="2" height="1"/><rect x="823" y="557" width="6" height="1"/><rect x="833" y="557" width="2" height="1"/><rect x="36" y="558" width="2" height="1"/><rect x="538" y="558" width="3" height="1"/><rect x="693" y="558" width="2" height="1"/><rect x="697" y="558" width="2" height="1"/><rect x="731" y="558" width="2" height="1"/><rect x="743" y="558" width="14" height="1"/><rect x="761" y="558" width="2" height="1"/><rect x="791" y="558" width="10" height="1"/><rect x="861" y="558" width="5" height="1"/><rect x="16" y="559" width="4" height="1"/><rect x="34" y="559" width="2" height="1"/><rect x="536" y="559" width="2" height="1"/><rect x="690" y="559" width="3" height="1"/><rect x="729" y="559" width="2" height="1"/><rect x="763" y="559" width="2" height="1"/><rect x="775" y="559" width="5" height="1"/><rect x="787" y="559" width="4" height="1"/><rect x="836" y="559" width="2" height="1"/><rect x="855" y="559" width="6" height="1"/><rect x="866" y="559" width="4" height="1"/><rect x="20" y="560" width="14" height="1"/><rect x="534" y="560" width="2" height="1"/><rect x="687" y="560" width="3" height="1"/><rect x="700" y="560" width="2" height="1"/><rect x="711" y="560" width="5" height="1"/><rect x="725" y="560" width="4" height="1"/><rect x="765" y="560" width="2" height="1"/><rect x="771" y="560" width="4" height="1"/><rect x="780" y="560" width="7" height="1"/><rect x="838" y="560" width="2" height="1"/><rect x="853" y="560" width="2" height="1"/><rect x="870" y="560" width="11" height="1"/><rect x="314" y="561" width="2" height="1"/><rect x="532" y="561" width="2" height="1"/><rect x="683" y="561" width="4" height="1"/><rect x="702" y="561" width="2" height="1"/><rect x="707" y="561" width="4" height="1"/><rect x="716" y="561" width="9" height="1"/><rect x="767" y="561" width="4" height="1"/><rect x="840" y="561" width="4" height="1"/><rect x="850" y="561" width="3" height="1"/><rect x="504" y="562" width="20" height="1"/><rect x="530" y="562" width="2" height="1"/><rect x="677" y="562" width="6" height="1"/><rect x="704" y="562" width="3" height="1"/><rect x="844" y="562" width="6" height="1"/><rect x="882" y="562" width="2" height="1"/><rect x="377" y="563" width="2" height="1"/><rect x="524" y="563" width="6" height="1"/><rect x="671" y="563" width="6" height="1"/><rect x="318" y="564" width="2" height="1"/><rect x="669" y="564" width="2" height="1"/><rect x="380" y="565" width="2" height="1"/><rect x="399" y="565" width="2" height="1"/><rect x="630" y="565" width="2" height="1"/><rect x="666" y="565" width="3" height="1"/><rect x="886" y="565" width="2" height="1"/><rect x="321" y="566" width="2" height="1"/><rect x="371" y="566" width="2" height="1"/><rect x="382" y="566" width="2" height="1"/><rect x="395" y="566" width="4" height="1"/><rect x="401" y="566" width="2" height="1"/><rect x="628" y="566" width="2" height="1"/><rect x="663" y="566" width="3" height="1"/><rect x="888" y="566" width="10" height="1"/><rect x="384" y="567" width="11" height="1"/><rect x="403" y="567" width="2" height="1"/><rect x="616" y="567" width="4" height="1"/><rect x="626" y="567" width="2" height="1"/><rect x="659" y="567" width="4" height="1"/><rect x="898" y="567" width="4" height="1"/><rect x="324" y="568" width="2" height="1"/><rect x="351" y="568" width="2" height="1"/><rect x="405" y="568" width="2" height="1"/><rect x="598" y="568" width="2" height="1"/><rect x="620" y="568" width="6" height="1"/><rect x="648" y="568" width="11" height="1"/><rect x="902" y="568" width="4" height="1"/><rect x="326" y="569" width="2" height="1"/><rect x="349" y="569" width="2" height="1"/><rect x="353" y="569" width="2" height="1"/><rect x="407" y="569" width="2" height="1"/><rect x="646" y="569" width="2" height="1"/><rect x="906" y="569" width="4" height="1"/><rect x="328" y="570" width="2" height="1"/><rect x="346" y="570" width="3" height="1"/><rect x="366" y="570" width="2" height="1"/><rect x="569" y="570" width="2" height="1"/><rect x="595" y="570" width="2" height="1"/><rect x="644" y="570" width="2" height="1"/><rect x="910" y="570" width="2" height="1"/><rect x="330" y="571" width="4" height="1"/><rect x="341" y="571" width="5" height="1"/><rect x="356" y="571" width="2" height="1"/><rect x="364" y="571" width="2" height="1"/><rect x="410" y="571" width="2" height="1"/><rect x="593" y="571" width="2" height="1"/><rect x="642" y="571" width="2" height="1"/><rect x="334" y="572" width="7" height="1"/><rect x="358" y="572" width="2" height="1"/><rect x="362" y="572" width="2" height="1"/><rect x="572" y="572" width="2" height="1"/><rect x="583" y="572" width="10" height="1"/><rect x="640" y="572" width="2" height="1"/><rect x="360" y="573" width="2" height="1"/><rect x="574" y="573" width="2" height="1"/><rect x="579" y="573" width="4" height="1"/><rect x="414" y="574" width="2" height="1"/><rect x="495" y="574" width="2" height="1"/><rect x="576" y="574" width="3" height="1"/><rect x="416" y="575" width="10" height="1"/><rect x="479" y="575" width="5" height="1"/><rect x="491" y="575" width="4" height="1"/><rect x="426" y="576" width="4" height="1"/><rect x="477" y="576" width="2" height="1"/><rect x="484" y="576" width="7" height="1"/><rect x="430" y="577" width="4" height="1"/><rect x="474" y="577" width="3" height="1"/><rect x="434" y="578" width="4" height="1"/><rect x="471" y="578" width="3" height="1"/><rect x="438" y="579" width="14" height="1"/><rect x="467" y="579" width="4" height="1"/><rect x="452" y="580" width="15" height="1"/><rect x="249" y="545" width="1" height="1"/><rect x="250" y="546" width="1" height="1"/><rect x="251" y="547" width="1" height="1"/><rect x="252" y="548" width="1" height="2"/><rect x="253" y="550" width="1" height="1"/><rect x="254" y="551" width="1" height="1"/><rect x="551" y="551" width="1" height="1"/><rect x="255" y="552" width="1" height="1"/><rect x="305" y="552" width="1" height="1"/><rect x="306" y="553" width="1" height="1"/><rect x="548" y="553" width="1" height="1"/><rect x="560" y="553" width="1" height="1"/><rect x="307" y="554" width="1" height="1"/><rect x="547" y="554" width="1" height="1"/><rect x="561" y="554" width="1" height="2"/><rect x="308" y="555" width="1" height="1"/><rect x="805" y="555" width="1" height="1"/><rect x="309" y="556" width="1" height="1"/><rect x="562" y="556" width="1" height="2"/><rect x="310" y="557" width="1" height="1"/><rect x="733" y="557" width="1" height="1"/><rect x="311" y="558" width="1" height="1"/><rect x="563" y="558" width="1" height="2"/><rect x="835" y="558" width="1" height="1"/><rect x="312" y="559" width="1" height="1"/><rect x="699" y="559" width="1" height="1"/><rect x="15" y="560" width="1" height="1"/><rect x="313" y="560" width="1" height="1"/><rect x="564" y="560" width="1" height="2"/><rect x="14" y="561" width="1" height="2"/><rect x="881" y="561" width="1" height="1"/><rect x="316" y="562" width="1" height="1"/><rect x="376" y="562" width="1" height="1"/><rect x="565" y="562" width="1" height="2"/><rect x="13" y="563" width="1" height="1"/><rect x="317" y="563" width="1" height="1"/><rect x="375" y="563" width="1" height="1"/><rect x="503" y="563" width="1" height="2"/><rect x="884" y="563" width="1" height="1"/><rect x="12" y="564" width="1" height="1"/><rect x="374" y="564" width="1" height="1"/><rect x="379" y="564" width="1" height="1"/><rect x="566" y="564" width="1" height="2"/><rect x="632" y="564" width="1" height="1"/><rect x="885" y="564" width="1" height="1"/><rect x="11" y="565" width="1" height="1"/><rect x="320" y="565" width="1" height="1"/><rect x="373" y="565" width="1" height="1"/><rect x="502" y="565" width="1" height="1"/><rect x="633" y="565" width="1" height="1"/><rect x="10" y="566" width="1" height="2"/><rect x="501" y="566" width="1" height="2"/><rect x="567" y="566" width="1" height="2"/><rect x="634" y="566" width="1" height="1"/><rect x="323" y="567" width="1" height="1"/><rect x="370" y="567" width="1" height="1"/><rect x="600" y="567" width="1" height="1"/><rect x="635" y="567" width="1" height="1"/><rect x="9" y="568" width="1" height="1"/><rect x="369" y="568" width="1" height="1"/><rect x="500" y="568" width="1" height="1"/><rect x="568" y="568" width="1" height="2"/><rect x="601" y="568" width="1" height="1"/><rect x="615" y="568" width="1" height="1"/><rect x="636" y="568" width="1" height="1"/><rect x="8" y="569" width="1" height="1"/><rect x="368" y="569" width="1" height="1"/><rect x="499" y="569" width="1" height="2"/><rect x="597" y="569" width="1" height="1"/><rect x="602" y="569" width="1" height="1"/><rect x="614" y="569" width="1" height="1"/><rect x="637" y="569" width="1" height="1"/><rect x="355" y="570" width="1" height="1"/><rect x="409" y="570" width="1" height="1"/><rect x="603" y="570" width="1" height="1"/><rect x="613" y="570" width="1" height="1"/><rect x="638" y="570" width="1" height="1"/><rect x="498" y="571" width="1" height="1"/><rect x="571" y="571" width="1" height="1"/><rect x="604" y="571" width="1" height="1"/><rect x="612" y="571" width="1" height="1"/><rect x="639" y="571" width="1" height="1"/><rect x="412" y="572" width="1" height="1"/><rect x="497" y="572" width="1" height="2"/><rect x="605" y="572" width="1" height="1"/><rect x="611" y="572" width="1" height="1"/><rect x="413" y="573" width="1" height="1"/><rect x="606" y="573" width="1" height="1"/><rect x="610" y="573" width="1" height="1"/><rect x="607" y="574" width="1" height="1"/><rect x="609" y="574" width="1" height="1"/><rect x="608" y="575" width="1" height="1"/></g>
<g fill="#ff0000" shape-rendering="crispEdges" clip-path="url(#cm)"><rect x="885" y="77" width="15" height="1"/><rect x="879" y="78" width="6" height="1"/><rect x="900" y="78" width="8" height="1"/><rect x="877" y="79" width="2" height="1"/><rect x="908" y="79" width="4" height="1"/><rect x="874" y="80" width="3" height="1"/><rect x="871" y="81" width="3" height="1"/><rect x="867" y="82" width="4" height="1"/><rect x="863" y="83" width="4" height="1"/><rect x="861" y="84" width="2" height="1"/><rect x="858" y="85" width="3" height="1"/><rect x="845" y="86" width="13" height="1"/><rect x="840" y="87" width="5" height="1"/><rect x="838" y="88" width="2" height="1"/><rect x="836" y="89" width="2" height="1"/><rect x="834" y="90" width="2" height="1"/><rect x="832" y="91" width="2" height="1"/><rect x="830" y="92" width="2" height="1"/><rect x="827" y="94" width="2" height="1"/><rect x="825" y="95" width="2" height="1"/><rect x="822" y="97" width="2" height="1"/><rect x="819" y="99" width="2" height="1"/><rect x="817" y="100" width="2" height="1"/><rect x="814" y="102" width="2" height="1"/><rect x="811" y="104" width="2" height="1"/><rect x="809" y="105" width="2" height="1"/><rect x="806" y="107" width="2" height="1"/><rect x="803" y="109" width="2" height="1"/><rect x="801" y="110" width="2" height="1"/><rect x="798" y="112" width="2" height="1"/><rect x="795" y="114" width="2" height="1"/><rect x="793" y="115" width="2" height="1"/><rect x="790" y="117" width="2" height="1"/><rect x="787" y="119" width="2" height="1"/><rect x="785" y="120" width="2" height="1"/><rect x="782" y="122" width="2" height="1"/><rect x="780" y="123" width="2" height="1"/><rect x="778" y="124" width="2" height="1"/><rect x="776" y="125" width="2" height="1"/><rect x="771" y="129" width="2" height="1"/><rect x="765" y="134" width="2" height="1"/><rect x="761" y="137" width="2" height="1"/><rect x="309" y="150" width="7" height="1"/><rect x="304" y="151" width="5" height="1"/><rect x="316" y="151" width="6" height="1"/><rect x="322" y="152" width="2" height="1"/><rect x="301" y="153" width="2" height="1"/><rect x="324" y="153" width="3" height="1"/><rect x="327" y="154" width="2" height="1"/><rect x="329" y="155" width="2" height="1"/><rect x="297" y="156" width="2" height="1"/><rect x="331" y="156" width="2" height="1"/><rect x="295" y="157" width="2" height="1"/><rect x="333" y="157" width="2" height="1"/><rect x="291" y="158" width="4" height="1"/><rect x="335" y="158" width="2" height="1"/><rect x="742" y="158" width="2" height="1"/><rect x="287" y="159" width="4" height="1"/><rect x="337" y="159" width="2" height="1"/><rect x="283" y="160" width="4" height="1"/><rect x="339" y="160" width="2" height="1"/><rect x="739" y="160" width="2" height="1"/><rect x="279" y="161" width="4" height="1"/><rect x="341" y="161" width="2" height="1"/><rect x="737" y="161" width="2" height="1"/><rect x="277" y="162" width="2" height="1"/><rect x="343" y="162" width="3" height="1"/><rect x="274" y="163" width="3" height="1"/><rect x="346" y="163" width="2" height="1"/><rect x="272" y="164" width="2" height="1"/><rect x="348" y="164" width="3" height="1"/><rect x="270" y="165" width="2" height="1"/><rect x="351" y="165" width="2" height="1"/><rect x="353" y="166" width="2" height="1"/><rect x="267" y="167" width="2" height="1"/><rect x="265" y="168" width="2" height="1"/><rect x="356" y="168" width="2" height="1"/><rect x="358" y="169" width="2" height="1"/><rect x="262" y="170" width="2" height="1"/><rect x="360" y="170" width="2" height="1"/><rect x="260" y="171" width="2" height="1"/><rect x="362" y="171" width="4" height="1"/><rect x="258" y="172" width="2" height="1"/><rect x="366" y="172" width="6" height="1"/><rect x="725" y="172" width="2" height="1"/><rect x="256" y="173" width="2" height="1"/><rect x="372" y="173" width="5" height="1"/><rect x="254" y="174" width="2" height="1"/><rect x="377" y="174" width="2" height="1"/><rect x="252" y="175" width="2" height="1"/><rect x="379" y="175" width="2" height="1"/><rect x="721" y="175" width="2" height="1"/><rect x="250" y="176" width="2" height="1"/><rect x="381" y="176" width="2" height="1"/><rect x="248" y="177" width="2" height="1"/><rect x="383" y="177" width="3" height="1"/><rect x="246" y="178" width="2" height="1"/><rect x="386" y="178" width="4" height="1"/><rect x="717" y="178" width="2" height="1"/><rect x="390" y="179" width="6" height="1"/><rect x="243" y="180" width="2" height="1"/><rect x="396" y="180" width="5" height="1"/><rect x="241" y="181" width="2" height="1"/><rect x="401" y="181" width="2" height="1"/><rect x="713" y="181" width="2" height="1"/><rect x="403" y="182" width="2" height="1"/><rect x="238" y="183" width="2" height="1"/><rect x="405" y="183" width="2" height="1"/><rect x="710" y="183" width="2" height="1"/><rect x="407" y="184" width="2" height="1"/><rect x="235" y="185" width="2" height="1"/><rect x="707" y="185" width="2" height="1"/><rect x="233" y="186" width="2" height="1"/><rect x="705" y="186" width="2" height="1"/><rect x="230" y="188" width="2" height="1"/><rect x="412" y="188" width="2" height="1"/><rect x="702" y="188" width="2" height="1"/><rect x="227" y="190" width="2" height="1"/><rect x="699" y="190" width="2" height="1"/><rect x="225" y="191" width="2" height="1"/><rect x="697" y="191" width="2" height="1"/><rect x="222" y="193" width="2" height="1"/><rect x="418" y="193" width="2" height="1"/><rect x="219" y="195" width="2" height="1"/><rect x="599" y="195" width="27" height="1"/><rect x="217" y="196" width="2" height="1"/><rect x="422" y="196" width="2" height="1"/><rect x="595" y="196" width="4" height="1"/><rect x="626" y="196" width="4" height="1"/><rect x="691" y="196" width="2" height="1"/><rect x="591" y="197" width="4" height="1"/><rect x="630" y="197" width="6" height="1"/><rect x="425" y="198" width="2" height="1"/><rect x="587" y="198" width="4" height="1"/><rect x="636" y="198" width="6" height="1"/><rect x="427" y="199" width="2" height="1"/><rect x="583" y="199" width="4" height="1"/><rect x="642" y="199" width="4" height="1"/><rect x="429" y="200" width="2" height="1"/><rect x="579" y="200" width="4" height="1"/><rect x="646" y="200" width="4" height="1"/><rect x="431" y="201" width="2" height="1"/><rect x="575" y="201" width="4" height="1"/><rect x="650" y="201" width="2" height="1"/><rect x="433" y="202" width="2" height="1"/><rect x="571" y="202" width="4" height="1"/><rect x="652" y="202" width="3" height="1"/><rect x="435" y="203" width="2" height="1"/><rect x="567" y="203" width="4" height="1"/><rect x="655" y="203" width="2" height="1"/><rect x="683" y="203" width="2" height="1"/><rect x="437" y="204" width="2" height="1"/><rect x="565" y="204" width="2" height="1"/><rect x="657" y="204" width="2" height="1"/><rect x="439" y="205" width="3" height="1"/><rect x="562" y="205" width="3" height="1"/><rect x="659" y="205" width="2" height="1"/><rect x="442" y="206" width="2" height="1"/><rect x="560" y="206" width="2" height="1"/><rect x="661" y="206" width="2" height="1"/><rect x="444" y="207" width="3" height="1"/><rect x="663" y="207" width="3" height="1"/><rect x="678" y="207" width="2" height="1"/><rect x="447" y="208" width="3" height="1"/><rect x="666" y="208" width="2" height="1"/><rect x="676" y="208" width="2" height="1"/><rect x="450" y="209" width="2" height="1"/><rect x="668" y="209" width="3" height="1"/><rect x="674" y="209" width="2" height="1"/><rect x="452" y="210" width="3" height="1"/><rect x="671" y="210" width="3" height="1"/><rect x="455" y="211" width="2" height="1"/><rect x="457" y="212" width="2" height="1"/><rect x="460" y="214" width="2" height="1"/><rect x="198" y="215" width="2" height="1"/><rect x="462" y="215" width="2" height="1"/><rect x="464" y="216" width="2" height="1"/><rect x="195" y="217" width="2" height="1"/><rect x="466" y="217" width="2" height="1"/><rect x="193" y="218" width="2" height="1"/><rect x="468" y="218" width="3" height="1"/><rect x="471" y="219" width="2" height="1"/><rect x="473" y="220" width="2" height="1"/><rect x="189" y="221" width="2" height="1"/><rect x="476" y="222" width="2" height="1"/><rect x="478" y="223" width="2" height="1"/><rect x="185" y="224" width="2" height="1"/><rect x="481" y="225" width="2" height="1"/><rect x="541" y="225" width="2" height="1"/><rect x="181" y="227" width="2" height="1"/><rect x="484" y="227" width="2" height="1"/><rect x="486" y="228" width="2" height="1"/><rect x="537" y="228" width="2" height="1"/><rect x="488" y="229" width="2" height="1"/><rect x="535" y="229" width="2" height="1"/><rect x="177" y="230" width="2" height="1"/><rect x="490" y="230" width="2" height="1"/><rect x="533" y="230" width="2" height="1"/><rect x="492" y="231" width="3" height="1"/><rect x="530" y="231" width="3" height="1"/><rect x="495" y="232" width="3" height="1"/><rect x="527" y="232" width="3" height="1"/><rect x="498" y="233" width="4" height="1"/><rect x="525" y="233" width="2" height="1"/><rect x="502" y="234" width="6" height="1"/><rect x="522" y="234" width="3" height="1"/><rect x="508" y="235" width="14" height="1"/><rect x="155" y="252" width="2" height="1"/><rect x="147" y="259" width="2" height="1"/><rect x="61" y="380" width="2" height="1"/><rect x="57" y="383" width="2" height="1"/><rect x="51" y="388" width="2" height="1"/><rect x="45" y="393" width="2" height="1"/><rect x="41" y="396" width="2" height="1"/><rect x="38" y="398" width="2" height="1"/><rect x="35" y="400" width="2" height="1"/><rect x="33" y="401" width="2" height="1"/><rect x="30" y="403" width="2" height="1"/><rect x="28" y="404" width="2" height="1"/><rect x="26" y="405" width="2" height="1"/><rect x="24" y="406" width="2" height="1"/><rect x="22" y="407" width="2" height="1"/><rect x="20" y="408" width="2" height="1"/><rect x="18" y="409" width="2" height="1"/><rect x="15" y="410" width="3" height="1"/><rect x="13" y="411" width="2" height="1"/><rect x="10" y="412" width="3" height="1"/><rect x="8" y="413" width="2" height="1"/><rect x="829" y="93" width="1" height="1"/><rect x="824" y="96" width="1" height="1"/><rect x="821" y="98" width="1" height="1"/><rect x="816" y="101" width="1" height="1"/><rect x="813" y="103" width="1" height="1"/><rect x="808" y="106" width="1" height="1"/><rect x="805" y="108" width="1" height="1"/><rect x="800" y="111" width="1" height="1"/><rect x="797" y="113" width="1" height="1"/><rect x="792" y="116" width="1" height="1"/><rect x="789" y="118" width="1" height="1"/><rect x="784" y="121" width="1" height="1"/><rect x="775" y="126" width="1" height="1"/><rect x="774" y="127" width="1" height="1"/><rect x="773" y="128" width="1" height="1"/><rect x="770" y="130" width="1" height="1"/><rect x="769" y="131" width="1" height="1"/><rect x="768" y="132" width="1" height="1"/><rect x="767" y="133" width="1" height="1"/><rect x="764" y="135" width="1" height="1"/><rect x="763" y="136" width="1" height="1"/><rect x="760" y="138" width="1" height="1"/><rect x="759" y="139" width="1" height="1"/><rect x="758" y="140" width="1" height="2"/><rect x="757" y="142" width="1" height="1"/><rect x="756" y="143" width="1" height="1"/><rect x="755" y="144" width="1" height="1"/><rect x="754" y="145" width="1" height="2"/><rect x="753" y="147" width="1" height="1"/><rect x="752" y="148" width="1" height="1"/><rect x="751" y="149" width="1" height="1"/><rect x="750" y="150" width="1" height="1"/><rect x="749" y="151" width="1" height="1"/><rect x="303" y="152" width="1" height="1"/><rect x="748" y="152" width="1" height="2"/><rect x="300" y="154" width="1" height="1"/><rect x="747" y="154" width="1" height="1"/><rect x="299" y="155" width="1" height="1"/><rect x="746" y="155" width="1" height="1"/><rect x="745" y="156" width="1" height="1"/><rect x="744" y="157" width="1" height="1"/><rect x="741" y="159" width="1" height="1"/><rect x="736" y="162" width="1" height="1"/><rect x="735" y="163" width="1" height="1"/><rect x="734" y="164" width="1" height="1"/><rect x="733" y="165" width="1" height="1"/><rect x="269" y="166" width="1" height="1"/><rect x="732" y="166" width="1" height="1"/><rect x="355" y="167" width="1" height="1"/><rect x="731" y="167" width="1" height="1"/><rect x="730" y="168" width="1" height="1"/><rect x="264" y="169" width="1" height="1"/><rect x="729" y="169" width="1" height="1"/><rect x="728" y="170" width="1" height="1"/><rect x="727" y="171" width="1" height="1"/><rect x="724" y="173" width="1" height="1"/><rect x="723" y="174" width="1" height="1"/><rect x="720" y="176" width="1" height="1"/><rect x="719" y="177" width="1" height="1"/><rect x="245" y="179" width="1" height="1"/><rect x="716" y="179" width="1" height="1"/><rect x="715" y="180" width="1" height="1"/><rect x="240" y="182" width="1" height="1"/><rect x="712" y="182" width="1" height="1"/><rect x="237" y="184" width="1" height="1"/><rect x="709" y="184" width="1" height="1"/><rect x="409" y="185" width="1" height="1"/><rect x="410" y="186" width="1" height="1"/><rect x="232" y="187" width="1" height="1"/><rect x="411" y="187" width="1" height="1"/><rect x="704" y="187" width="1" height="1"/><rect x="229" y="189" width="1" height="1"/><rect x="414" y="189" width="1" height="1"/><rect x="701" y="189" width="1" height="1"/><rect x="415" y="190" width="1" height="1"/><rect x="416" y="191" width="1" height="1"/><rect x="224" y="192" width="1" height="1"/><rect x="417" y="192" width="1" height="1"/><rect x="696" y="192" width="1" height="1"/><rect x="695" y="193" width="1" height="1"/><rect x="221" y="194" width="1" height="1"/><rect x="420" y="194" width="1" height="1"/><rect x="694" y="194" width="1" height="1"/><rect x="421" y="195" width="1" height="1"/><rect x="693" y="195" width="1" height="1"/><rect x="216" y="197" width="1" height="1"/><rect x="424" y="197" width="1" height="1"/><rect x="690" y="197" width="1" height="1"/><rect x="215" y="198" width="1" height="1"/><rect x="689" y="198" width="1" height="1"/><rect x="214" y="199" width="1" height="1"/><rect x="688" y="199" width="1" height="1"/><rect x="213" y="200" width="1" height="1"/><rect x="687" y="200" width="1" height="1"/><rect x="212" y="201" width="1" height="2"/><rect x="686" y="201" width="1" height="1"/><rect x="685" y="202" width="1" height="1"/><rect x="211" y="203" width="1" height="1"/><rect x="210" y="204" width="1" height="1"/><rect x="682" y="204" width="1" height="1"/><rect x="209" y="205" width="1" height="1"/><rect x="681" y="205" width="1" height="1"/><rect x="208" y="206" width="1" height="1"/><rect x="680" y="206" width="1" height="1"/><rect x="207" y="207" width="1" height="1"/><rect x="559" y="207" width="1" height="1"/><rect x="206" y="208" width="1" height="1"/><rect x="558" y="208" width="1" height="1"/><rect x="205" y="209" width="1" height="1"/><rect x="557" y="209" width="1" height="1"/><rect x="204" y="210" width="1" height="1"/><rect x="556" y="210" width="1" height="2"/><rect x="203" y="211" width="1" height="1"/><rect x="202" y="212" width="1" height="1"/><rect x="555" y="212" width="1" height="1"/><rect x="201" y="213" width="1" height="1"/><rect x="459" y="213" width="1" height="1"/><rect x="554" y="213" width="1" height="1"/><rect x="200" y="214" width="1" height="1"/><rect x="553" y="214" width="1" height="1"/><rect x="552" y="215" width="1" height="1"/><rect x="197" y="216" width="1" height="1"/><rect x="551" y="216" width="1" height="1"/><rect x="550" y="217" width="1" height="1"/><rect x="549" y="218" width="1" height="1"/><rect x="192" y="219" width="1" height="1"/><rect x="548" y="219" width="1" height="1"/><rect x="191" y="220" width="1" height="1"/><rect x="547" y="220" width="1" height="1"/><rect x="475" y="221" width="1" height="1"/><rect x="546" y="221" width="1" height="1"/><rect x="188" y="222" width="1" height="1"/><rect x="545" y="222" width="1" height="1"/><rect x="187" y="223" width="1" height="1"/><rect x="544" y="223" width="1" height="1"/><rect x="480" y="224" width="1" height="1"/><rect x="543" y="224" width="1" height="1"/><rect x="184" y="225" width="1" height="1"/><rect x="183" y="226" width="1" height="1"/><rect x="483" y="226" width="1" height="1"/><rect x="540" y="226" width="1" height="1"/><rect x="539" y="227" width="1" height="1"/><rect x="180" y="228" width="1" height="1"/><rect x="179" y="229" width="1" height="1"/><rect x="176" y="231" width="1" height="1"/><rect x="175" y="232" width="1" height="1"/><rect x="174" y="233" width="1" height="1"/><rect x="173" y="234" width="1" height="1"/><rect x="172" y="235" width="1" height="2"/><rect x="171" y="237" width="1" height="1"/><rect x="170" y="238" width="1" height="1"/><rect x="169" y="239" width="1" height="1"/><rect x="168" y="240" width="1" height="1"/><rect x="167" y="241" width="1" height="1"/><rect x="166" y="242" width="1" height="1"/><rect x="165" y="243" width="1" height="1"/><rect x="164" y="244" width="1" height="1"/><rect x="163" y="245" width="1" height="1"/><rect x="162" y="246" width="1" height="1"/><rect x="161" y="247" width="1" height="1"/><rect x="160" y="248" width="1" height="1"/><rect x="159" y="249" width="1" height="1"/><rect x="158" y="250" width="1" height="1"/><rect x="157" y="251" width="1" height="1"/><rect x="154" y="253" width="1" height="1"/><rect x="153" y="254" width="1" height="1"/><rect x="152" y="255" width="1" height="1"/><rect x="151" y="256" width="1" height="1"/><rect x="150" y="257" width="1" height="1"/><rect x="149" y="258" width="1" height="1"/><rect x="146" y="260" width="1" height="1"/><rect x="145" y="261" width="1" height="1"/><rect x="144" y="262" width="1" height="1"/><rect x="143" y="263" width="1" height="1"/><rect x="142" y="264" width="1" height="1"/><rect x="141" y="265" width="1" height="1"/><rect x="140" y="266" width="1" height="2"/><rect x="139" y="268" width="1" height="1"/><rect x="138" y="269" width="1" height="1"/><rect x="137" y="270" width="1" height="1"/><rect x="136" y="271" width="1" height="1"/><rect x="135" y="272" width="1" height="2"/><rect x="134" y="274" width="1" height="1"/><rect x="133" y="275" width="1" height="1"/><rect x="132" y="276" width="1" height="2"/><rect x="131" y="278" width="1" height="1"/><rect x="130" y="279" width="1" height="1"/><rect x="129" y="280" width="1" height="2"/><rect x="128" y="282" width="1" height="1"/><rect x="127" y="283" width="1" height="1"/><rect x="126" y="284" width="1" height="2"/><rect x="125" y="286" width="1" height="1"/><rect x="124" y="287" width="1" height="1"/><rect x="123" y="288" width="1" height="1"/><rect x="122" y="289" width="1" height="2"/><rect x="121" y="291" width="1" height="1"/><rect x="120" y="292" width="1" height="2"/><rect x="119" y="294" width="1" height="2"/><rect x="118" y="296" width="1" height="2"/><rect x="117" y="298" width="1" height="2"/><rect x="116" y="300" width="1" height="2"/><rect x="115" y="302" width="1" height="2"/><rect x="114" y="304" width="1" height="2"/><rect x="113" y="306" width="1" height="2"/><rect x="112" y="308" width="1" height="2"/><rect x="111" y="310" width="1" height="2"/><rect x="110" y="312" width="1" height="2"/><rect x="109" y="314" width="1" height="2"/><rect x="108" y="316" width="1" height="2"/><rect x="107" y="318" width="1" height="2"/><rect x="106" y="320" width="1" height="2"/><rect x="105" y="322" width="1" height="2"/><rect x="104" y="324" width="1" height="1"/><rect x="103" y="325" width="1" height="2"/><rect x="102" y="327" width="1" height="1"/><rect x="101" y="328" width="1" height="1"/><rect x="100" y="329" width="1" height="2"/><rect x="99" y="331" width="1" height="1"/><rect x="98" y="332" width="1" height="1"/><rect x="97" y="333" width="1" height="2"/><rect x="96" y="335" width="1" height="1"/><rect x="95" y="336" width="1" height="2"/><rect x="94" y="338" width="1" height="2"/><rect x="93" y="340" width="1" height="1"/><rect x="92" y="341" width="1" height="2"/><rect x="91" y="343" width="1" height="1"/><rect x="90" y="344" width="1" height="2"/><rect x="89" y="346" width="1" height="2"/><rect x="88" y="348" width="1" height="1"/><rect x="87" y="349" width="1" height="2"/><rect x="86" y="351" width="1" height="1"/><rect x="85" y="352" width="1" height="1"/><rect x="84" y="353" width="1" height="2"/><rect x="83" y="355" width="1" height="1"/><rect x="82" y="356" width="1" height="1"/><rect x="81" y="357" width="1" height="2"/><rect x="80" y="359" width="1" height="1"/><rect x="79" y="360" width="1" height="2"/><rect x="78" y="362" width="1" height="1"/><rect x="77" y="363" width="1" height="1"/><rect x="76" y="364" width="1" height="2"/><rect x="75" y="366" width="1" height="1"/><rect x="74" y="367" width="1" height="1"/><rect x="73" y="368" width="1" height="2"/><rect x="72" y="370" width="1" height="1"/><rect x="71" y="371" width="1" height="1"/><rect x="70" y="372" width="1" height="1"/><rect x="69" y="373" width="1" height="1"/><rect x="68" y="374" width="1" height="1"/><rect x="67" y="375" width="1" height="1"/><rect x="66" y="376" width="1" height="1"/><rect x="65" y="377" width="1" height="1"/><rect x="64" y="378" width="1" height="1"/><rect x="63" y="379" width="1" height="1"/><rect x="60" y="381" width="1" height="1"/><rect x="59" y="382" width="1" height="1"/><rect x="56" y="384" width="1" height="1"/><rect x="55" y="385" width="1" height="1"/><rect x="54" y="386" width="1" height="1"/><rect x="53" y="387" width="1" height="1"/><rect x="50" y="389" width="1" height="1"/><rect x="49" y="390" width="1" height="1"/><rect x="48" y="391" width="1" height="1"/><rect x="47" y="392" width="1" height="1"/><rect x="44" y="394" width="1" height="1"/><rect x="43" y="395" width="1" height="1"/><rect x="40" y="397" width="1" height="1"/><rect x="37" y="399" width="1" height="1"/><rect x="32" y="402" width="1" height="1"/></g>
<g fill="#0000cd" shape-rendering="crispEdges" clip-path="url(#cm)"><rect x="893" y="85" width="15" height="1"/><rect x="887" y="86" width="6" height="1"/><rect x="908" y="86" width="4" height="1"/><rect x="885" y="87" width="2" height="1"/><rect x="882" y="88" width="3" height="1"/><rect x="879" y="89" width="3" height="1"/><rect x="877" y="90" width="2" height="1"/><rect x="874" y="91" width="3" height="1"/><rect x="871" y="92" width="3" height="1"/><rect x="869" y="93" width="2" height="1"/><rect x="866" y="94" width="3" height="1"/><rect x="863" y="95" width="3" height="1"/><rect x="861" y="96" width="2" height="1"/><rect x="858" y="97" width="3" height="1"/><rect x="855" y="98" width="3" height="1"/><rect x="853" y="99" width="2" height="1"/><rect x="850" y="100" width="3" height="1"/><rect x="847" y="101" width="3" height="1"/><rect x="845" y="102" width="2" height="1"/><rect x="842" y="103" width="3" height="1"/><rect x="840" y="104" width="2" height="1"/><rect x="838" y="105" width="2" height="1"/><rect x="835" y="107" width="2" height="1"/><rect x="833" y="108" width="2" height="1"/><rect x="829" y="111" width="2" height="1"/><rect x="825" y="114" width="2" height="1"/><rect x="819" y="119" width="2" height="1"/><rect x="811" y="126" width="2" height="1"/><rect x="798" y="138" width="2" height="1"/><rect x="795" y="140" width="2" height="1"/><rect x="793" y="141" width="2" height="1"/><rect x="790" y="143" width="2" height="1"/><rect x="787" y="145" width="2" height="1"/><rect x="785" y="146" width="2" height="1"/><rect x="782" y="148" width="2" height="1"/><rect x="779" y="150" width="2" height="1"/><rect x="777" y="151" width="2" height="1"/><rect x="771" y="156" width="2" height="1"/><rect x="766" y="160" width="2" height="1"/><rect x="764" y="161" width="2" height="1"/><rect x="762" y="162" width="2" height="1"/><rect x="760" y="163" width="2" height="1"/><rect x="317" y="164" width="39" height="1"/><rect x="311" y="165" width="6" height="1"/><rect x="356" y="165" width="16" height="1"/><rect x="757" y="165" width="2" height="1"/><rect x="307" y="166" width="4" height="1"/><rect x="372" y="166" width="6" height="1"/><rect x="304" y="167" width="3" height="1"/><rect x="378" y="167" width="4" height="1"/><rect x="302" y="168" width="2" height="1"/><rect x="382" y="168" width="6" height="1"/><rect x="753" y="168" width="2" height="1"/><rect x="388" y="169" width="6" height="1"/><rect x="299" y="170" width="2" height="1"/><rect x="394" y="170" width="4" height="1"/><rect x="297" y="171" width="2" height="1"/><rect x="398" y="171" width="4" height="1"/><rect x="749" y="171" width="2" height="1"/><rect x="295" y="172" width="2" height="1"/><rect x="402" y="172" width="4" height="1"/><rect x="291" y="173" width="4" height="1"/><rect x="406" y="173" width="4" height="1"/><rect x="287" y="174" width="4" height="1"/><rect x="410" y="174" width="2" height="1"/><rect x="745" y="174" width="2" height="1"/><rect x="285" y="175" width="2" height="1"/><rect x="412" y="175" width="3" height="1"/><rect x="282" y="176" width="3" height="1"/><rect x="415" y="176" width="2" height="1"/><rect x="280" y="177" width="2" height="1"/><rect x="417" y="177" width="2" height="1"/><rect x="741" y="177" width="2" height="1"/><rect x="278" y="178" width="2" height="1"/><rect x="419" y="178" width="2" height="1"/><rect x="421" y="179" width="2" height="1"/><rect x="275" y="180" width="2" height="1"/><rect x="423" y="180" width="2" height="1"/><rect x="737" y="180" width="2" height="1"/><rect x="273" y="181" width="2" height="1"/><rect x="425" y="181" width="2" height="1"/><rect x="734" y="182" width="2" height="1"/><rect x="270" y="183" width="2" height="1"/><rect x="428" y="183" width="2" height="1"/><rect x="430" y="184" width="2" height="1"/><rect x="731" y="184" width="2" height="1"/><rect x="267" y="185" width="2" height="1"/><rect x="729" y="185" width="2" height="1"/><rect x="265" y="186" width="2" height="1"/><rect x="433" y="186" width="2" height="1"/><rect x="709" y="186" width="20" height="1"/><rect x="703" y="187" width="6" height="1"/><rect x="436" y="188" width="2" height="1"/><rect x="699" y="188" width="4" height="1"/><rect x="261" y="189" width="2" height="1"/><rect x="438" y="189" width="2" height="1"/><rect x="695" y="189" width="4" height="1"/><rect x="693" y="190" width="2" height="1"/><rect x="441" y="191" width="2" height="1"/><rect x="690" y="191" width="3" height="1"/><rect x="257" y="192" width="2" height="1"/><rect x="687" y="192" width="3" height="1"/><rect x="444" y="193" width="2" height="1"/><rect x="683" y="193" width="4" height="1"/><rect x="254" y="194" width="2" height="1"/><rect x="446" y="194" width="2" height="1"/><rect x="679" y="194" width="4" height="1"/><rect x="675" y="195" width="4" height="1"/><rect x="251" y="196" width="2" height="1"/><rect x="449" y="196" width="2" height="1"/><rect x="671" y="196" width="4" height="1"/><rect x="249" y="197" width="2" height="1"/><rect x="667" y="197" width="4" height="1"/><rect x="452" y="198" width="2" height="1"/><rect x="663" y="198" width="4" height="1"/><rect x="454" y="199" width="2" height="1"/><rect x="659" y="199" width="4" height="1"/><rect x="245" y="200" width="2" height="1"/><rect x="655" y="200" width="4" height="1"/><rect x="457" y="201" width="2" height="1"/><rect x="651" y="201" width="4" height="1"/><rect x="645" y="202" width="6" height="1"/><rect x="241" y="203" width="2" height="1"/><rect x="460" y="203" width="2" height="1"/><rect x="639" y="203" width="6" height="1"/><rect x="462" y="204" width="2" height="1"/><rect x="635" y="204" width="4" height="1"/><rect x="631" y="205" width="4" height="1"/><rect x="627" y="206" width="4" height="1"/><rect x="466" y="207" width="2" height="1"/><rect x="623" y="207" width="4" height="1"/><rect x="235" y="208" width="2" height="1"/><rect x="621" y="208" width="2" height="1"/><rect x="618" y="209" width="3" height="1"/><rect x="470" y="210" width="2" height="1"/><rect x="615" y="210" width="3" height="1"/><rect x="472" y="211" width="2" height="1"/><rect x="611" y="211" width="4" height="1"/><rect x="474" y="212" width="2" height="1"/><rect x="607" y="212" width="4" height="1"/><rect x="476" y="213" width="3" height="1"/><rect x="559" y="213" width="5" height="1"/><rect x="603" y="213" width="4" height="1"/><rect x="479" y="214" width="2" height="1"/><rect x="555" y="214" width="4" height="1"/><rect x="564" y="214" width="8" height="1"/><rect x="597" y="214" width="6" height="1"/><rect x="227" y="215" width="2" height="1"/><rect x="481" y="215" width="2" height="1"/><rect x="551" y="215" width="4" height="1"/><rect x="572" y="215" width="25" height="1"/><rect x="483" y="216" width="2" height="1"/><rect x="549" y="216" width="2" height="1"/><rect x="485" y="217" width="2" height="1"/><rect x="546" y="217" width="3" height="1"/><rect x="487" y="218" width="3" height="1"/><rect x="541" y="218" width="5" height="1"/><rect x="490" y="219" width="4" height="1"/><rect x="501" y="219" width="40" height="1"/><rect x="494" y="220" width="7" height="1"/><rect x="219" y="222" width="2" height="1"/><rect x="107" y="351" width="2" height="1"/><rect x="99" y="358" width="2" height="1"/><rect x="93" y="363" width="2" height="1"/><rect x="89" y="366" width="2" height="1"/><rect x="85" y="369" width="2" height="1"/><rect x="81" y="372" width="2" height="1"/><rect x="77" y="375" width="2" height="1"/><rect x="73" y="378" width="2" height="1"/><rect x="69" y="381" width="2" height="1"/><rect x="65" y="384" width="2" height="1"/><rect x="62" y="386" width="2" height="1"/><rect x="60" y="387" width="2" height="1"/><rect x="58" y="388" width="2" height="1"/><rect x="56" y="389" width="2" height="1"/><rect x="51" y="393" width="2" height="1"/><rect x="43" y="400" width="2" height="1"/><rect x="11" y="439" width="2" height="1"/><rect x="837" y="106" width="1" height="1"/><rect x="832" y="109" width="1" height="1"/><rect x="831" y="110" width="1" height="1"/><rect x="828" y="112" width="1" height="1"/><rect x="827" y="113" width="1" height="1"/><rect x="824" y="115" width="1" height="1"/><rect x="823" y="116" width="1" height="1"/><rect x="822" y="117" width="1" height="1"/><rect x="821" y="118" width="1" height="1"/><rect x="818" y="120" width="1" height="1"/><rect x="817" y="121" width="1" height="1"/><rect x="816" y="122" width="1" height="1"/><rect x="815" y="123" width="1" height="1"/><rect x="814" y="124" width="1" height="1"/><rect x="813" y="125" width="1" height="1"/><rect x="810" y="127" width="1" height="1"/><rect x="809" y="128" width="1" height="1"/><rect x="808" y="129" width="1" height="1"/><rect x="807" y="130" width="1" height="1"/><rect x="806" y="131" width="1" height="1"/><rect x="805" y="132" width="1" height="1"/><rect x="804" y="133" width="1" height="1"/><rect x="803" y="134" width="1" height="1"/><rect x="802" y="135" width="1" height="1"/><rect x="801" y="136" width="1" height="1"/><rect x="800" y="137" width="1" height="1"/><rect x="797" y="139" width="1" height="1"/><rect x="792" y="142" width="1" height="1"/><rect x="789" y="144" width="1" height="1"/><rect x="784" y="147" width="1" height="1"/><rect x="781" y="149" width="1" height="1"/><rect x="776" y="152" width="1" height="1"/><rect x="775" y="153" width="1" height="1"/><rect x="774" y="154" width="1" height="1"/><rect x="773" y="155" width="1" height="1"/><rect x="770" y="157" width="1" height="1"/><rect x="769" y="158" width="1" height="1"/><rect x="768" y="159" width="1" height="1"/><rect x="759" y="164" width="1" height="1"/><rect x="756" y="166" width="1" height="1"/><rect x="755" y="167" width="1" height="1"/><rect x="301" y="169" width="1" height="1"/><rect x="752" y="169" width="1" height="1"/><rect x="751" y="170" width="1" height="1"/><rect x="748" y="172" width="1" height="1"/><rect x="747" y="173" width="1" height="1"/><rect x="744" y="175" width="1" height="1"/><rect x="743" y="176" width="1" height="1"/><rect x="740" y="178" width="1" height="1"/><rect x="277" y="179" width="1" height="1"/><rect x="739" y="179" width="1" height="1"/><rect x="736" y="181" width="1" height="1"/><rect x="272" y="182" width="1" height="1"/><rect x="427" y="182" width="1" height="1"/><rect x="733" y="183" width="1" height="1"/><rect x="269" y="184" width="1" height="1"/><rect x="432" y="185" width="1" height="1"/><rect x="264" y="187" width="1" height="1"/><rect x="435" y="187" width="1" height="1"/><rect x="263" y="188" width="1" height="1"/><rect x="260" y="190" width="1" height="1"/><rect x="440" y="190" width="1" height="1"/><rect x="259" y="191" width="1" height="1"/><rect x="443" y="192" width="1" height="1"/><rect x="256" y="193" width="1" height="1"/><rect x="253" y="195" width="1" height="1"/><rect x="448" y="195" width="1" height="1"/><rect x="451" y="197" width="1" height="1"/><rect x="248" y="198" width="1" height="1"/><rect x="247" y="199" width="1" height="1"/><rect x="456" y="200" width="1" height="1"/><rect x="244" y="201" width="1" height="1"/><rect x="243" y="202" width="1" height="1"/><rect x="459" y="202" width="1" height="1"/><rect x="240" y="204" width="1" height="1"/><rect x="239" y="205" width="1" height="1"/><rect x="464" y="205" width="1" height="1"/><rect x="238" y="206" width="1" height="1"/><rect x="465" y="206" width="1" height="1"/><rect x="237" y="207" width="1" height="1"/><rect x="468" y="208" width="1" height="1"/><rect x="234" y="209" width="1" height="1"/><rect x="469" y="209" width="1" height="1"/><rect x="233" y="210" width="1" height="1"/><rect x="232" y="211" width="1" height="1"/><rect x="231" y="212" width="1" height="1"/><rect x="230" y="213" width="1" height="1"/><rect x="229" y="214" width="1" height="1"/><rect x="226" y="216" width="1" height="1"/><rect x="225" y="217" width="1" height="1"/><rect x="224" y="218" width="1" height="1"/><rect x="223" y="219" width="1" height="1"/><rect x="222" y="220" width="1" height="1"/><rect x="221" y="221" width="1" height="1"/><rect x="218" y="223" width="1" height="1"/><rect x="217" y="224" width="1" height="1"/><rect x="216" y="225" width="1" height="1"/><rect x="215" y="226" width="1" height="1"/><rect x="214" y="227" width="1" height="1"/><rect x="213" y="228" width="1" height="1"/><rect x="212" y="229" width="1" height="1"/><rect x="211" y="230" width="1" height="1"/><rect x="210" y="231" width="1" height="1"/><rect x="209" y="232" width="1" height="1"/><rect x="208" y="233" width="1" height="1"/><rect x="207" y="234" width="1" height="1"/><rect x="206" y="235" width="1" height="1"/><rect x="205" y="236" width="1" height="1"/><rect x="204" y="237" width="1" height="1"/><rect x="203" y="238" width="1" height="1"/><rect x="202" y="239" width="1" height="1"/><rect x="201" y="240" width="1" height="1"/><rect x="200" y="241" width="1" height="1"/><rect x="199" y="242" width="1" height="1"/><rect x="198" y="243" width="1" height="1"/><rect x="197" y="244" width="1" height="1"/><rect x="196" y="245" width="1" height="1"/><rect x="195" y="246" width="1" height="1"/><rect x="194" y="247" width="1" height="1"/><rect x="193" y="248" width="1" height="1"/><rect x="192" y="249" width="1" height="1"/><rect x="191" y="250" width="1" height="1"/><rect x="190" y="251" width="1" height="1"/><rect x="189" y="252" width="1" height="1"/><rect x="188" y="253" width="1" height="1"/><rect x="187" y="254" width="1" height="1"/><rect x="186" y="255" width="1" height="1"/><rect x="185" y="256" width="1" height="1"/><rect x="184" y="257" width="1" height="1"/><rect x="183" y="258" width="1" height="1"/><rect x="182" y="259" width="1" height="1"/><rect x="181" y="260" width="1" height="1"/><rect x="180" y="261" width="1" height="1"/><rect x="179" y="262" width="1" height="1"/><rect x="178" y="263" width="1" height="1"/><rect x="177" y="264" width="1" height="1"/><rect x="176" y="265" width="1" height="1"/><rect x="175" y="266" width="1" height="2"/><rect x="174" y="268" width="1" height="1"/><rect x="173" y="269" width="1" height="1"/><rect x="172" y="270" width="1" height="2"/><rect x="171" y="272" width="1" height="1"/><rect x="170" y="273" width="1" height="1"/><rect x="169" y="274" width="1" height="2"/><rect x="168" y="276" width="1" height="1"/><rect x="167" y="277" width="1" height="2"/><rect x="166" y="279" width="1" height="1"/><rect x="165" y="280" width="1" height="1"/><rect x="164" y="281" width="1" height="2"/><rect x="163" y="283" width="1" height="1"/><rect x="162" y="284" width="1" height="1"/><rect x="161" y="285" width="1" height="2"/><rect x="160" y="287" width="1" height="1"/><rect x="159" y="288" width="1" height="2"/><rect x="158" y="290" width="1" height="1"/><rect x="157" y="291" width="1" height="1"/><rect x="156" y="292" width="1" height="2"/><rect x="155" y="294" width="1" height="1"/><rect x="154" y="295" width="1" height="1"/><rect x="153" y="296" width="1" height="2"/><rect x="152" y="298" width="1" height="1"/><rect x="151" y="299" width="1" height="2"/><rect x="150" y="301" width="1" height="1"/><rect x="149" y="302" width="1" height="1"/><rect x="148" y="303" width="1" height="2"/><rect x="147" y="305" width="1" height="1"/><rect x="146" y="306" width="1" height="1"/><rect x="145" y="307" width="1" height="2"/><rect x="144" y="309" width="1" height="1"/><rect x="143" y="310" width="1" height="1"/><rect x="142" y="311" width="1" height="1"/><rect x="141" y="312" width="1" height="1"/><rect x="140" y="313" width="1" height="2"/><rect x="139" y="315" width="1" height="1"/><rect x="138" y="316" width="1" height="1"/><rect x="137" y="317" width="1" height="1"/><rect x="136" y="318" width="1" height="1"/><rect x="135" y="319" width="1" height="1"/><rect x="134" y="320" width="1" height="2"/><rect x="133" y="322" width="1" height="1"/><rect x="132" y="323" width="1" height="1"/><rect x="131" y="324" width="1" height="1"/><rect x="130" y="325" width="1" height="2"/><rect x="129" y="327" width="1" height="1"/><rect x="128" y="328" width="1" height="1"/><rect x="127" y="329" width="1" height="1"/><rect x="126" y="330" width="1" height="2"/><rect x="125" y="332" width="1" height="1"/><rect x="124" y="333" width="1" height="1"/><rect x="123" y="334" width="1" height="1"/><rect x="122" y="335" width="1" height="2"/><rect x="121" y="337" width="1" height="1"/><rect x="120" y="338" width="1" height="1"/><rect x="119" y="339" width="1" height="1"/><rect x="118" y="340" width="1" height="1"/><rect x="117" y="341" width="1" height="1"/><rect x="116" y="342" width="1" height="2"/><rect x="115" y="344" width="1" height="1"/><rect x="114" y="345" width="1" height="1"/><rect x="113" y="346" width="1" height="1"/><rect x="112" y="347" width="1" height="1"/><rect x="111" y="348" width="1" height="1"/><rect x="110" y="349" width="1" height="1"/><rect x="109" y="350" width="1" height="1"/><rect x="106" y="352" width="1" height="1"/><rect x="105" y="353" width="1" height="1"/><rect x="104" y="354" width="1" height="1"/><rect x="103" y="355" width="1" height="1"/><rect x="102" y="356" width="1" height="1"/><rect x="101" y="357" width="1" height="1"/><rect x="98" y="359" width="1" height="1"/><rect x="97" y="360" width="1" height="1"/><rect x="96" y="361" width="1" height="1"/><rect x="95" y="362" width="1" height="1"/><rect x="92" y="364" width="1" height="1"/><rect x="91" y="365" width="1" height="1"/><rect x="88" y="367" width="1" height="1"/><rect x="87" y="368" width="1" height="1"/><rect x="84" y="370" width="1" height="1"/><rect x="83" y="371" width="1" height="1"/><rect x="80" y="373" width="1" height="1"/><rect x="79" y="374" width="1" height="1"/><rect x="76" y="376" width="1" height="1"/><rect x="75" y="377" width="1" height="1"/><rect x="72" y="379" width="1" height="1"/><rect x="71" y="380" width="1" height="1"/><rect x="68" y="382" width="1" height="1"/><rect x="67" y="383" width="1" height="1"/><rect x="64" y="385" width="1" height="1"/><rect x="55" y="390" width="1" height="1"/><rect x="54" y="391" width="1" height="1"/><rect x="53" y="392" width="1" height="1"/><rect x="50" y="394" width="1" height="1"/><rect x="49" y="395" width="1" height="1"/><rect x="48" y="396" width="1" height="1"/><rect x="47" y="397" width="1" height="1"/><rect x="46" y="398" width="1" height="1"/><rect x="45" y="399" width="1" height="1"/><rect x="42" y="401" width="1" height="1"/><rect x="41" y="402" width="1" height="1"/><rect x="40" y="403" width="1" height="1"/><rect x="39" y="404" width="1" height="2"/><rect x="38" y="406" width="1" height="1"/><rect x="37" y="407" width="1" height="1"/><rect x="36" y="408" width="1" height="2"/><rect x="35" y="410" width="1" height="1"/><rect x="34" y="411" width="1" height="1"/><rect x="33" y="412" width="1" height="2"/><rect x="32" y="414" width="1" height="1"/><rect x="31" y="415" width="1" height="2"/><rect x="30" y="417" width="1" height="1"/><rect x="29" y="418" width="1" height="1"/><rect x="28" y="419" width="1" height="2"/><rect x="27" y="421" width="1" height="1"/><rect x="26" y="422" width="1" height="1"/><rect x="25" y="423" width="1" height="2"/><rect x="24" y="425" width="1" height="1"/><rect x="23" y="426" width="1" height="1"/><rect x="22" y="427" width="1" height="2"/><rect x="21" y="429" width="1" height="1"/><rect x="20" y="430" width="1" height="1"/><rect x="19" y="431" width="1" height="1"/><rect x="18" y="432" width="1" height="2"/><rect x="17" y="434" width="1" height="1"/><rect x="16" y="435" width="1" height="1"/><rect x="15" y="436" width="1" height="1"/><rect x="14" y="437" width="1" height="1"/><rect x="13" y="438" width="1" height="1"/><rect x="10" y="440" width="1" height="1"/><rect x="9" y="441" width="1" height="1"/><rect x="8" y="442" width="1" height="1"/></g>
<g shape-rendering="crispEdges" clip-path="url(#cm)">
<rect x="8" y="432" width="1" height="20" fill="#ff0000"/>
<rect x="6" y="435" width="5" height="15" fill="#ff0000"/>
<rect x="7" y="436" width="3" height="13" fill="#ff4500"/>
<rect x="16" y="343" width="1" height="108" fill="#ff0000"/>
<rect x="14" y="347" width="5" height="89" fill="#ff0000"/>
<rect x="15" y="348" width="3" height="87" fill="#ff4500"/>
<rect x="24" y="336" width="1" height="47" fill="#28c828"/>
<rect x="22" y="347" width="5" height="14" fill="#28c828"/>
<rect x="23" y="348" width="3" height="12" fill="#32cd32"/>
<rect x="32" y="352" width="1" height="23" fill="#ff0000"/>
<rect x="30" y="353" width="5" height="9" fill="#ff0000"/>
<rect x="31" y="354" width="3" height="7" fill="#ff4500"/>
<rect x="40" y="293" width="1" height="63" fill="#ff0000"/>
<rect x="38" y="316" width="5" height="39" fill="#ff0000"/>
<rect x="39" y="317" width="3" height="37" fill="#ff4500"/>
<rect x="48" y="312" width="1" height="21" fill="#28c828"/>
<rect x="46" y="316" width="5" height="2" fill="#28c828"/>
<rect x="56" y="296" width="1" height="29" fill="#ff0000"/>
<rect x="54" y="298" width="5" height="19" fill="#ff0000"/>
<rect x="55" y="299" width="3" height="17" fill="#ff4500"/>
<rect x="64" y="295" width="1" height="34" fill="#28c828"/>
<rect x="62" y="297" width="5" height="14" fill="#28c828"/>
<rect x="63" y="298" width="3" height="12" fill="#32cd32"/>
<rect x="72" y="271" width="1" height="43" fill="#ff0000"/>
<rect x="70" y="275" width="5" height="36" fill="#ff0000"/>
<rect x="71" y="276" width="3" height="34" fill="#ff4500"/>
<rect x="80" y="264" width="1" height="24" fill="#ff0000"/>
<rect x="78" y="274" width="5" height="2" fill="#ff0000"/>
<rect x="88" y="269" width="1" height="32" fill="#ff0000"/>
<rect x="86" y="269" width="5" height="7" fill="#ff0000"/>
<rect x="87" y="270" width="3" height="5" fill="#ff4500"/>
<rect x="96" y="261" width="1" height="35" fill="#ff0000"/>
<rect x="94" y="262" width="5" height="8" fill="#ff0000"/>
<rect x="95" y="263" width="3" height="6" fill="#ff4500"/>
<rect x="104" y="248" width="1" height="19" fill="#ff0000"/>
<rect x="102" y="260" width="5" height="3" fill="#ff0000"/>
<rect x="103" y="261" width="3" height="1" fill="#ff4500"/>
<rect x="112" y="236" width="1" height="30" fill="#ff0000"/>
<rect x="110" y="243" width="5" height="18" fill="#ff0000"/>
<rect x="111" y="244" width="3" height="16" fill="#ff4500"/>
<rect x="120" y="208" width="1" height="41" fill="#ff0000"/>
<rect x="118" y="212" width="5" height="31" fill="#ff0000"/>
<rect x="119" y="213" width="3" height="29" fill="#ff4500"/>
<rect x="128" y="186" width="1" height="31" fill="#ff0000"/>
<rect x="126" y="203" width="5" height="9" fill="#ff0000"/>
<rect x="127" y="204" width="3" height="7" fill="#ff4500"/>
<rect x="136" y="198" width="1" height="28" fill="#28c828"/>
<rect x="134" y="203" width="5" height="16" fill="#28c828"/>
<rect x="135" y="204" width="3" height="14" fill="#32cd32"/>
<rect x="144" y="206" width="1" height="17" fill="#ff0000"/>
<rect x="142" y="215" width="5" height="3" fill="#ff0000"/>
<rect x="143" y="216" width="3" height="1" fill="#ff4500"/>
<rect x="152" y="207" width="1" height="14" fill="#000000"/>
<rect x="150" y="214" width="5" height="1" fill="#000000"/>
<rect x="160" y="199" width="1" height="26" fill="#28c828"/>
<rect x="158" y="213" width="5" height="2" fill="#28c828"/>
<rect x="168" y="197" width="1" height="28" fill="#ff0000"/>
<rect x="166" y="198" width="5" height="17" fill="#ff0000"/>
<rect x="167" y="199" width="3" height="15" fill="#ff4500"/>
<rect x="176" y="179" width="1" height="35" fill="#ff0000"/>
<rect x="174" y="185" width="5" height="14" fill="#ff0000"/>
<rect x="175" y="186" width="3" height="12" fill="#ff4500"/>
<rect x="184" y="177" width="1" height="18" fill="#28c828"/>
<rect x="182" y="185" width="5" height="5" fill="#28c828"/>
<rect x="183" y="186" width="3" height="3" fill="#32cd32"/>
<rect x="192" y="183" width="1" height="17" fill="#ff0000"/>
<rect x="190" y="192" width="5" height="4" fill="#ff0000"/>
<rect x="191" y="193" width="3" height="2" fill="#ff4500"/>
<rect x="200" y="184" width="1" height="14" fill="#ff0000"/>
<rect x="198" y="190" width="5" height="3" fill="#ff0000"/>
<rect x="199" y="191" width="3" height="1" fill="#ff4500"/>
<rect x="208" y="145" width="1" height="53" fill="#ff0000"/>
<rect x="206" y="157" width="5" height="33" fill="#ff0000"/>
<rect x="207" y="158" width="3" height="31" fill="#ff4500"/>
<rect x="216" y="126" width="1" height="32" fill="#ff0000"/>
<rect x="214" y="151" width="5" height="7" fill="#ff0000"/>
<rect x="215" y="152" width="3" height="5" fill="#ff4500"/>
<rect x="224" y="138" width="1" height="19" fill="#ff0000"/>
<rect x="222" y="146" width="5" height="6" fill="#ff0000"/>
<rect x="223" y="147" width="3" height="4" fill="#ff4500"/>
<rect x="232" y="141" width="1" height="19" fill="#28c828"/>
<rect x="230" y="146" width="5" height="1" fill="#28c828"/>
<rect x="240" y="144" width="1" height="19" fill="#28c828"/>
<rect x="238" y="147" width="5" height="4" fill="#28c828"/>
<rect x="239" y="148" width="3" height="2" fill="#32cd32"/>
<rect x="248" y="135" width="1" height="18" fill="#ff0000"/>
<rect x="246" y="143" width="5" height="8" fill="#ff0000"/>
<rect x="247" y="144" width="3" height="6" fill="#ff4500"/>
<rect x="256" y="141" width="1" height="25" fill="#28c828"/>
<rect x="254" y="143" width="5" height="23" fill="#28c828"/>
<rect x="255" y="144" width="3" height="21" fill="#32cd32"/>
<rect x="264" y="129" width="1" height="45" fill="#ff0000"/>
<rect x="262" y="138" width="5" height="27" fill="#ff0000"/>
<rect x="263" y="139" width="3" height="25" fill="#ff4500"/>
<rect x="272" y="135" width="1" height="26" fill="#28c828"/>
<rect x="270" y="137" width="5" height="10" fill="#28c828"/>
<rect x="271" y="138" width="3" height="8" fill="#32cd32"/>
<rect x="280" y="146" width="1" height="24" fill="#28c828"/>
<rect x="278" y="147" width="5" height="11" fill="#28c828"/>
<rect x="279" y="148" width="3" height="9" fill="#32cd32"/>
<rect x="288" y="145" width="1" height="15" fill="#ff0000"/>
<rect x="286" y="151" width="5" height="7" fill="#ff0000"/>
<rect x="287" y="152" width="3" height="5" fill="#ff4500"/>
<rect x="296" y="145" width="1" height="13" fill="#ff0000"/>
<rect x="294" y="149" width="5" height="3" fill="#ff0000"/>
<rect x="295" y="150" width="3" height="1" fill="#ff4500"/>
<rect x="304" y="122" width="1" height="27" fill="#ff0000"/>
<rect x="302" y="130" width="5" height="19" fill="#ff0000"/>
<rect x="303" y="131" width="3" height="17" fill="#ff4500"/>
<rect x="312" y="128" width="1" height="34" fill="#28c828"/>
<rect x="310" y="130" width="5" height="27" fill="#28c828"/>
<rect x="311" y="131" width="3" height="25" fill="#32cd32"/>
<rect x="320" y="152" width="1" height="31" fill="#28c828"/>
<rect x="318" y="156" width="5" height="25" fill="#28c828"/>
<rect x="319" y="157" width="3" height="23" fill="#32cd32"/>
<rect x="328" y="175" width="1" height="37" fill="#28c828"/>
<rect x="326" y="180" width="5" height="20" fill="#28c828"/>
<rect x="327" y="181" width="3" height="18" fill="#32cd32"/>
<rect x="336" y="193" width="1" height="17" fill="#28c828"/>
<rect x="334" y="199" width="5" height="9" fill="#28c828"/>
<rect x="335" y="200" width="3" height="7" fill="#32cd32"/>
<rect x="344" y="196" width="1" height="20" fill="#ff0000"/>
<rect x="342" y="202" width="5" height="6" fill="#ff0000"/>
<rect x="343" y="203" width="3" height="4" fill="#ff4500"/>
<rect x="352" y="162" width="1" height="57" fill="#ff0000"/>
<rect x="350" y="189" width="5" height="14" fill="#ff0000"/>
<rect x="351" y="190" width="3" height="12" fill="#ff4500"/>
<rect x="360" y="162" width="1" height="59" fill="#28c828"/>
<rect x="358" y="189" width="5" height="26" fill="#28c828"/>
<rect x="359" y="190" width="3" height="24" fill="#32cd32"/>
<rect x="368" y="181" width="1" height="38" fill="#ff0000"/>
<rect x="366" y="197" width="5" height="18" fill="#ff0000"/>
<rect x="367" y="198" width="3" height="16" fill="#ff4500"/>
<rect x="376" y="146" width="1" height="55" fill="#ff0000"/>
<rect x="374" y="160" width="5" height="37" fill="#ff0000"/>
<rect x="375" y="161" width="3" height="35" fill="#ff4500"/>
<rect x="384" y="158" width="1" height="30" fill="#28c828"/>
<rect x="382" y="159" width="5" height="28" fill="#28c828"/>
<rect x="383" y="160" width="3" height="26" fill="#32cd32"/>
<rect x="392" y="181" width="1" height="12" fill="#28c828"/>
<rect x="390" y="186" width="5" height="2" fill="#28c828"/>
<rect x="400" y="165" width="1" height="23" fill="#ff0000"/>
<rect x="398" y="178" width="5" height="10" fill="#ff0000"/>
<rect x="399" y="179" width="3" height="8" fill="#ff4500"/>
<rect x="408" y="150" width="1" height="63" fill="#28c828"/>
<rect x="406" y="179" width="5" height="21" fill="#28c828"/>
<rect x="407" y="180" width="3" height="19" fill="#32cd32"/>
<rect x="416" y="196" width="1" height="30" fill="#28c828"/>
<rect x="414" y="200" width="5" height="26" fill="#28c828"/>
<rect x="415" y="201" width="3" height="24" fill="#32cd32"/>
<rect x="424" y="216" width="1" height="27" fill="#28c828"/>
<rect x="422" y="225" width="5" height="6" fill="#28c828"/>
<rect x="423" y="226" width="3" height="4" fill="#32cd32"/>
<rect x="432" y="225" width="1" height="19" fill="#28c828"/>
<rect x="430" y="228" width="5" height="14" fill="#28c828"/>
<rect x="431" y="229" width="3" height="12" fill="#32cd32"/>
<rect x="440" y="233" width="1" height="22" fill="#28c828"/>
<rect x="438" y="241" width="5" height="13" fill="#28c828"/>
<rect x="439" y="242" width="3" height="11" fill="#32cd32"/>
<rect x="448" y="223" width="1" height="36" fill="#28c828"/>
<rect x="446" y="253" width="5" height="2" fill="#28c828"/>
<rect x="456" y="229" width="1" height="35" fill="#28c828"/>
<rect x="454" y="255" width="5" height="2" fill="#28c828"/>
<rect x="464" y="248" width="1" height="18" fill="#28c828"/>
<rect x="462" y="255" width="5" height="5" fill="#28c828"/>
<rect x="463" y="256" width="3" height="3" fill="#32cd32"/>
<rect x="472" y="246" width="1" height="28" fill="#ff0000"/>
<rect x="470" y="252" width="5" height="8" fill="#ff0000"/>
<rect x="471" y="253" width="3" height="6" fill="#ff4500"/>
<rect x="480" y="235" width="1" height="25" fill="#ff0000"/>
<rect x="478" y="242" width="5" height="11" fill="#ff0000"/>
<rect x="479" y="243" width="3" height="9" fill="#ff4500"/>
<rect x="488" y="239" width="1" height="18" fill="#28c828"/>
<rect x="486" y="242" width="5" height="6" fill="#28c828"/>
<rect x="487" y="243" width="3" height="4" fill="#32cd32"/>
<rect x="496" y="238" width="1" height="31" fill="#ff0000"/>
<rect x="494" y="242" width="5" height="6" fill="#ff0000"/>
<rect x="495" y="243" width="3" height="4" fill="#ff4500"/>
<rect x="504" y="195" width="1" height="50" fill="#ff0000"/>
<rect x="502" y="196" width="5" height="47" fill="#ff0000"/>
<rect x="503" y="197" width="3" height="45" fill="#ff4500"/>
<rect x="512" y="185" width="1" height="23" fill="#ff0000"/>
<rect x="510" y="195" width="5" height="2" fill="#ff0000"/>
<rect x="520" y="180" width="1" height="30" fill="#ff0000"/>
<rect x="518" y="194" width="5" height="3" fill="#ff0000"/>
<rect x="519" y="195" width="3" height="1" fill="#ff4500"/>
<rect x="528" y="188" width="1" height="21" fill="#28c828"/>
<rect x="526" y="194" width="5" height="4" fill="#28c828"/>
<rect x="527" y="195" width="3" height="2" fill="#32cd32"/>
<rect x="536" y="180" width="1" height="21" fill="#ff0000"/>
<rect x="534" y="181" width="5" height="16" fill="#ff0000"/>
<rect x="535" y="182" width="3" height="14" fill="#ff4500"/>
<rect x="544" y="162" width="1" height="27" fill="#ff0000"/>
<rect x="542" y="168" width="5" height="15" fill="#ff0000"/>
<rect x="543" y="169" width="3" height="13" fill="#ff4500"/>
<rect x="552" y="115" width="1" height="56" fill="#ff0000"/>
<rect x="550" y="130" width="5" height="40" fill="#ff0000"/>
<rect x="551" y="131" width="3" height="38" fill="#ff4500"/>
<rect x="560" y="124" width="1" height="18" fill="#28c828"/>
<rect x="558" y="129" width="5" height="9" fill="#28c828"/>
<rect x="559" y="130" width="3" height="7" fill="#32cd32"/>
<rect x="568" y="117" width="1" height="109" fill="#28c828"/>
<rect x="566" y="137" width="5" height="67" fill="#28c828"/>
<rect x="567" y="138" width="3" height="65" fill="#32cd32"/>
<rect x="576" y="193" width="1" height="47" fill="#28c828"/>
<rect x="574" y="203" width="5" height="34" fill="#28c828"/>
<rect x="575" y="204" width="3" height="32" fill="#32cd32"/>
<rect x="584" y="220" width="1" height="23" fill="#ff0000"/>
<rect x="582" y="222" width="5" height="15" fill="#ff0000"/>
<rect x="583" y="223" width="3" height="13" fill="#ff4500"/>
<rect x="592" y="214" width="1" height="33" fill="#28c828"/>
<rect x="590" y="222" width="5" height="7" fill="#28c828"/>
<rect x="591" y="223" width="3" height="5" fill="#32cd32"/>
<rect x="600" y="188" width="1" height="56" fill="#ff0000"/>
<rect x="598" y="197" width="5" height="31" fill="#ff0000"/>
<rect x="599" y="198" width="3" height="29" fill="#ff4500"/>
<rect x="608" y="197" width="1" height="72" fill="#28c828"/>
<rect x="606" y="197" width="5" height="52" fill="#28c828"/>
<rect x="607" y="198" width="3" height="50" fill="#32cd32"/>
<rect x="616" y="195" width="1" height="54" fill="#ff0000"/>
<rect x="614" y="198" width="5" height="51" fill="#ff0000"/>
<rect x="615" y="199" width="3" height="49" fill="#ff4500"/>
<rect x="624" y="196" width="1" height="19" fill="#28c828"/>
<rect x="622" y="200" width="5" height="5" fill="#28c828"/>
<rect x="623" y="201" width="3" height="3" fill="#32cd32"/>
<rect x="632" y="181" width="1" height="32" fill="#ff0000"/>
<rect x="630" y="181" width="5" height="24" fill="#ff0000"/>
<rect x="631" y="182" width="3" height="22" fill="#ff4500"/>
<rect x="640" y="178" width="1" height="66" fill="#28c828"/>
<rect x="638" y="181" width="5" height="58" fill="#28c828"/>
<rect x="639" y="182" width="3" height="56" fill="#32cd32"/>
<rect x="648" y="195" width="1" height="47" fill="#ff0000"/>
<rect x="646" y="211" width="5" height="28" fill="#ff0000"/>
<rect x="647" y="212" width="3" height="26" fill="#ff4500"/>
<rect x="656" y="170" width="1" height="42" fill="#28c828"/>
<rect x="654" y="193" width="5" height="18" fill="#28c828"/>
<rect x="655" y="194" width="3" height="16" fill="#32cd32"/>
<rect x="664" y="189" width="1" height="42" fill="#ff0000"/>
<rect x="662" y="190" width="5" height="21" fill="#ff0000"/>
<rect x="663" y="191" width="3" height="19" fill="#ff4500"/>
<rect x="672" y="172" width="1" height="21" fill="#ff0000"/>
<rect x="670" y="173" width="5" height="19" fill="#ff0000"/>
<rect x="671" y="174" width="3" height="17" fill="#ff4500"/>
<rect x="680" y="154" width="1" height="23" fill="#ff0000"/>
<rect x="678" y="160" width="5" height="16" fill="#ff0000"/>
<rect x="679" y="161" width="3" height="14" fill="#ff4500"/>
<rect x="688" y="144" width="1" height="25" fill="#ff0000"/>
<rect x="686" y="144" width="5" height="17" fill="#ff0000"/>
<rect x="687" y="145" width="3" height="15" fill="#ff4500"/>
<rect x="696" y="115" width="1" height="44" fill="#ff0000"/>
<rect x="694" y="118" width="5" height="27" fill="#ff0000"/>
<rect x="695" y="119" width="3" height="25" fill="#ff4500"/>
<rect x="704" y="118" width="1" height="31" fill="#28c828"/>
<rect x="702" y="118" width="5" height="31" fill="#28c828"/>
<rect x="703" y="119" width="3" height="29" fill="#32cd32"/>
<rect x="712" y="134" width="1" height="20" fill="#ff0000"/>
<rect x="710" y="135" width="5" height="14" fill="#ff0000"/>
<rect x="711" y="136" width="3" height="12" fill="#ff4500"/>
<rect x="720" y="134" width="1" height="13" fill="#28c828"/>
<rect x="718" y="135" width="5" height="5" fill="#28c828"/>
<rect x="719" y="136" width="3" height="3" fill="#32cd32"/>
<rect x="728" y="129" width="1" height="12" fill="#ff0000"/>
<rect x="726" y="133" width="5" height="7" fill="#ff0000"/>
<rect x="727" y="134" width="3" height="5" fill="#ff4500"/>
<rect x="736" y="85" width="1" height="50" fill="#ff0000"/>
<rect x="734" y="86" width="5" height="49" fill="#ff0000"/>
<rect x="735" y="87" width="3" height="47" fill="#ff4500"/>
<rect x="744" y="68" width="1" height="48" fill="#28c828"/>
<rect x="742" y="86" width="5" height="18" fill="#28c828"/>
<rect x="743" y="87" width="3" height="16" fill="#32cd32"/>
<rect x="752" y="93" width="1" height="20" fill="#ff0000"/>
<rect x="750" y="102" width="5" height="5" fill="#ff0000"/>
<rect x="751" y="103" width="3" height="3" fill="#ff4500"/>
<rect x="760" y="91" width="1" height="21" fill="#ff0000"/>
<rect x="758" y="98" width="5" height="5" fill="#ff0000"/>
<rect x="759" y="99" width="3" height="3" fill="#ff4500"/>
<rect x="768" y="97" width="1" height="33" fill="#28c828"/>
<rect x="766" y="97" width="5" height="19" fill="#28c828"/>
<rect x="767" y="98" width="3" height="17" fill="#32cd32"/>
<rect x="776" y="100" width="1" height="19" fill="#ff0000"/>
<rect x="774" y="102" width="5" height="14" fill="#ff0000"/>
<rect x="775" y="103" width="3" height="12" fill="#ff4500"/>
<rect x="784" y="79" width="1" height="32" fill="#28c828"/>
<rect x="782" y="103" width="5" height="4" fill="#28c828"/>
<rect x="783" y="104" width="3" height="2" fill="#32cd32"/>
<rect x="792" y="89" width="1" height="20" fill="#ff0000"/>
<rect x="790" y="90" width="5" height="17" fill="#ff0000"/>
<rect x="791" y="91" width="3" height="15" fill="#ff4500"/>
<rect x="800" y="83" width="1" height="15" fill="#ff0000"/>
<rect x="798" y="89" width="5" height="3" fill="#ff0000"/>
<rect x="799" y="90" width="3" height="1" fill="#ff4500"/>
<rect x="808" y="57" width="1" height="36" fill="#ff0000"/>
<rect x="806" y="59" width="5" height="31" fill="#ff0000"/>
<rect x="807" y="60" width="3" height="29" fill="#ff4500"/>
<rect x="816" y="56" width="1" height="16" fill="#ff0000"/>
<rect x="814" y="57" width="5" height="3" fill="#ff0000"/>
<rect x="815" y="58" width="3" height="1" fill="#ff4500"/>
<rect x="824" y="53" width="1" height="18" fill="#28c828"/>
<rect x="822" y="58" width="5" height="13" fill="#28c828"/>
<rect x="823" y="59" width="3" height="11" fill="#32cd32"/>
<rect x="832" y="53" width="1" height="21" fill="#ff0000"/>
<rect x="830" y="64" width="5" height="7" fill="#ff0000"/>
<rect x="831" y="65" width="3" height="5" fill="#ff4500"/>
<rect x="840" y="54" width="1" height="46" fill="#28c828"/>
<rect x="838" y="64" width="5" height="20" fill="#28c828"/>
<rect x="839" y="65" width="3" height="18" fill="#32cd32"/>
<rect x="848" y="71" width="1" height="19" fill="#28c828"/>
<rect x="846" y="82" width="5" height="8" fill="#28c828"/>
<rect x="847" y="83" width="3" height="6" fill="#32cd32"/>
<rect x="856" y="72" width="1" height="32" fill="#ff0000"/>
<rect x="854" y="72" width="5" height="18" fill="#ff0000"/>
<rect x="855" y="73" width="3" height="16" fill="#ff4500"/>
<rect x="864" y="55" width="1" height="24" fill="#ff0000"/>
<rect x="862" y="66" width="5" height="8" fill="#ff0000"/>
<rect x="863" y="67" width="3" height="6" fill="#ff4500"/>
<rect x="872" y="65" width="1" height="12" fill="#28c828"/>
<rect x="870" y="66" width="5" height="8" fill="#28c828"/>
<rect x="871" y="67" width="3" height="6" fill="#32cd32"/>
<rect x="880" y="61" width="1" height="19" fill="#ff0000"/>
<rect x="878" y="71" width="5" height="2" fill="#ff0000"/>
<rect x="888" y="70" width="1" height="24" fill="#28c828"/>
<rect x="886" y="71" width="5" height="23" fill="#28c828"/>
<rect x="887" y="72" width="3" height="21" fill="#32cd32"/>
<rect x="896" y="90" width="1" height="21" fill="#28c828"/>
<rect x="894" y="92" width="5" height="6" fill="#28c828"/>
<rect x="895" y="93" width="3" height="4" fill="#32cd32"/>
<rect x="904" y="89" width="1" height="25" fill="#28c828"/>
<rect x="902" y="96" width="5" height="9" fill="#28c828"/>
<rect x="903" y="97" width="3" height="7" fill="#32cd32"/>
<rect x="912" y="102" width="1" height="21" fill="#ff0000"/>
<rect x="910" y="110" width="5" height="9" fill="#ff0000"/>
<rect x="911" y="111" width="3" height="7" fill="#ff4500"/>
</g>
<g shape-rendering="crispEdges">
<rect x="703" y="50" width="380" height="1" fill="#ff3333"/>
<rect x="500" y="181" width="591" height="1" fill="#3590e0"/>
<rect x="537" y="113" width="547" height="2" fill="#8fc800"/>
</g>
<text x="7.5" y="18" font-size="10" fill="#404040" text-anchor="start" textLength="17.5" lengthAdjust="spacingAndGlyphs" stroke="#404040" stroke-width="0.1">M30</text>
<text x="38.5" y="18" font-size="10" fill="#404040" text-anchor="start" textLength="11.5" lengthAdjust="spacingAndGlyphs" stroke="#404040" stroke-width="0.1">H1</text>
<text x="66" y="18" font-size="10" fill="#404040" text-anchor="start" textLength="12" lengthAdjust="spacingAndGlyphs" stroke="#404040" stroke-width="0.1">H4</text>
<text x="94.5" y="18" font-size="10" fill="#404040" text-anchor="start" textLength="11.5" lengthAdjust="spacingAndGlyphs" stroke="#404040" stroke-width="0.1">D1</text>
<text x="121.5" y="18" font-size="10" fill="#404040" text-anchor="start" textLength="15.0" lengthAdjust="spacingAndGlyphs" stroke="#404040" stroke-width="0.1">W1</text>
<text x="148" y="18" font-size="10" fill="#404040" text-anchor="start" textLength="15.5" lengthAdjust="spacingAndGlyphs" stroke="#404040" stroke-width="0.1">MN</text>
<path d="M11 37h7l-3.5 4z" fill="#000"/>
<text x="23.5" y="42" font-size="10" fill="#000" text-anchor="start" textLength="54.0" lengthAdjust="spacingAndGlyphs" stroke="#000" stroke-width="0.25">USDCHF,H4</text>
<text x="83.5" y="42" font-size="10" fill="#000" text-anchor="start" textLength="33.0" lengthAdjust="spacingAndGlyphs" stroke="#000" stroke-width="0.25">0.99914</text>
<text x="120.5" y="42" font-size="10" fill="#000" text-anchor="start" textLength="31.0" lengthAdjust="spacingAndGlyphs" stroke="#000" stroke-width="0.25">1.00003</text>
<text x="155.5" y="42" font-size="10" fill="#000" text-anchor="start" textLength="32.5" lengthAdjust="spacingAndGlyphs" stroke="#000" stroke-width="0.25">0.99892</text>
<text x="191.5" y="42" font-size="10" fill="#000" text-anchor="start" textLength="33.0" lengthAdjust="spacingAndGlyphs" stroke="#000" stroke-width="0.25">0.99957</text>
<text x="1164.4" y="67" font-size="10" fill="#000" text-anchor="start" textLength="32.3" lengthAdjust="spacingAndGlyphs" stroke="#000" stroke-width="0.25">1.00220</text>
<text x="1164.4" y="100" font-size="10" fill="#000" text-anchor="start" textLength="32.3" lengthAdjust="spacingAndGlyphs" stroke="#000" stroke-width="0.25">1.00035</text>
<text x="1164.4" y="133" font-size="10" fill="#000" text-anchor="start" textLength="32.3" lengthAdjust="spacingAndGlyphs" stroke="#000" stroke-width="0.25">0.99850</text>
<text x="1164.4" y="166" font-size="10" fill="#000" text-anchor="start" textLength="32.3" lengthAdjust="spacingAndGlyphs" stroke="#000" stroke-width="0.25">0.99665</text>
<text x="1164.4" y="199" font-size="10" fill="#000" text-anchor="start" textLength="32.3" lengthAdjust="spacingAndGlyphs" stroke="#000" stroke-width="0.25">0.99480</text>
<text x="1164.4" y="232" font-size="10" fill="#000" text-anchor="start" textLength="32.3" lengthAdjust="spacingAndGlyphs" stroke="#000" stroke-width="0.25">0.99295</text>
<text x="1164.4" y="265" font-size="10" fill="#000" text-anchor="start" textLength="32.3" lengthAdjust="spacingAndGlyphs" stroke="#000" stroke-width="0.25">0.99110</text>
<text x="1164.4" y="298" font-size="10" fill="#000" text-anchor="start" textLength="32.3" lengthAdjust="spacingAndGlyphs" stroke="#000" stroke-width="0.25">0.98920</text>
<text x="1164.4" y="331" font-size="10" fill="#000" text-anchor="start" textLength="32.3" lengthAdjust="spacingAndGlyphs" stroke="#000" stroke-width="0.25">0.98735</text>
<text x="1164.4" y="364" font-size="10" fill="#000" text-anchor="start" textLength="32.3" lengthAdjust="spacingAndGlyphs" stroke="#000" stroke-width="0.25">0.98550</text>
<text x="1164.4" y="397" font-size="10" fill="#000" text-anchor="start" textLength="32.3" lengthAdjust="spacingAndGlyphs" stroke="#000" stroke-width="0.25">0.98365</text>
<text x="1164.4" y="430" font-size="10" fill="#000" text-anchor="start" textLength="32.3" lengthAdjust="spacingAndGlyphs" stroke="#000" stroke-width="0.25">0.98180</text>
<text x="1164.4" y="463" font-size="10" fill="#000" text-anchor="start" textLength="32.3" lengthAdjust="spacingAndGlyphs" stroke="#000" stroke-width="0.25">0.97995</text>
<rect x="1160" y="105" width="41" height="11" fill="#000" shape-rendering="crispEdges"/>
<text x="1164.4" y="114" font-size="10" fill="#fff" text-anchor="start" textLength="32.3" lengthAdjust="spacingAndGlyphs" stroke="#fff" stroke-width="0.25">0.99957</text>
<text x="1162" y="475" font-size="10" fill="#000" text-anchor="start" textLength="38" lengthAdjust="spacingAndGlyphs" stroke="#000" stroke-width="0.25">0.003107</text>
<text x="1162" y="511" font-size="10" fill="#000" text-anchor="start" textLength="17.5" lengthAdjust="spacingAndGlyphs" stroke="#000" stroke-width="0.25">0.00</text>
<text x="1162" y="519" font-size="10" fill="#000" text-anchor="start" textLength="41" lengthAdjust="spacingAndGlyphs" stroke="#000" stroke-width="0.25">-0.001125</text>
<text x="1162.5" y="535" font-size="10" fill="#000" text-anchor="start" textLength="14.5" lengthAdjust="spacingAndGlyphs" stroke="#000" stroke-width="0.25">100</text>
<text x="1161.5" y="555" font-size="10" fill="#000" text-anchor="start" textLength="9.5" lengthAdjust="spacingAndGlyphs" stroke="#000" stroke-width="0.25">70</text>
<text x="1161.5" y="589" font-size="10" fill="#000" text-anchor="start" textLength="9.5" lengthAdjust="spacingAndGlyphs" stroke="#000" stroke-width="0.25">30</text>
<text x="1162" y="608" font-size="10" fill="#000" text-anchor="start" textLength="4.8" lengthAdjust="spacingAndGlyphs" stroke="#000" stroke-width="0.25">0</text>
<text x="12.4" y="477" font-size="10" fill="#000" text-anchor="start" textLength="65.2" lengthAdjust="spacingAndGlyphs" stroke="#000" stroke-width="0.25">MACD(12,26,9)</text>
<text x="81.2" y="477" font-size="10" fill="#000" text-anchor="start" textLength="37.6" lengthAdjust="spacingAndGlyphs" stroke="#000" stroke-width="0.25">0.000645</text>
<text x="122.6" y="477" font-size="10" fill="#000" text-anchor="start" textLength="37.4" lengthAdjust="spacingAndGlyphs" stroke="#000" stroke-width="0.25">0.001162</text>
<text x="12.5" y="537" font-size="10" fill="#000" text-anchor="start" textLength="67.5" lengthAdjust="spacingAndGlyphs" stroke="#000" stroke-width="0.25">RSI(14) 47.6733</text>
<text x="7.7" y="624" font-size="10" fill="#000" text-anchor="start" textLength="49" lengthAdjust="spacingAndGlyphs" stroke="#000" stroke-width="0.25">15 Jan 2019</text>
<text x="71.7" y="624" font-size="10" fill="#000" text-anchor="start" textLength="52.5" lengthAdjust="spacingAndGlyphs" stroke="#000" stroke-width="0.25">16 Jan 19:00</text>
<text x="135.7" y="624" font-size="10" fill="#000" text-anchor="start" textLength="52.5" lengthAdjust="spacingAndGlyphs" stroke="#000" stroke-width="0.25">18 Jan 00:00</text>
<text x="199.7" y="624" font-size="10" fill="#000" text-anchor="start" textLength="52.5" lengthAdjust="spacingAndGlyphs" stroke="#000" stroke-width="0.25">21 Jan 11:00</text>
<text x="263.7" y="624" font-size="10" fill="#000" text-anchor="start" textLength="52.5" lengthAdjust="spacingAndGlyphs" stroke="#000" stroke-width="0.25">22 Jan 19:00</text>
<text x="327.7" y="624" font-size="10" fill="#000" text-anchor="start" textLength="52.5" lengthAdjust="spacingAndGlyphs" stroke="#000" stroke-width="0.25">24 Jan 00:00</text>
<text x="391.7" y="624" font-size="10" fill="#000" text-anchor="start" textLength="52.5" lengthAdjust="spacingAndGlyphs" stroke="#000" stroke-width="0.25">25 Jan 11:00</text>
<text x="455.7" y="624" font-size="10" fill="#000" text-anchor="start" textLength="52.5" lengthAdjust="spacingAndGlyphs" stroke="#000" stroke-width="0.25">28 Jan 19:00</text>
<text x="519.7" y="624" font-size="10" fill="#000" text-anchor="start" textLength="52.5" lengthAdjust="spacingAndGlyphs" stroke="#000" stroke-width="0.25">30 Jan 00:00</text>
<text x="583.7" y="624" font-size="10" fill="#000" text-anchor="start" textLength="52.5" lengthAdjust="spacingAndGlyphs" stroke="#000" stroke-width="0.25">31 Jan 11:00</text>
<text x="647.7" y="624" font-size="10" fill="#000" text-anchor="start" textLength="49" lengthAdjust="spacingAndGlyphs" stroke="#000" stroke-width="0.25">1 Feb 19:00</text>
<text x="711.7" y="624" font-size="10" fill="#000" text-anchor="start" textLength="49" lengthAdjust="spacingAndGlyphs" stroke="#000" stroke-width="0.25">5 Feb 00:00</text>
<text x="775.7" y="624" font-size="10" fill="#000" text-anchor="start" textLength="49" lengthAdjust="spacingAndGlyphs" stroke="#000" stroke-width="0.25">6 Feb 11:00</text>
<text x="839.7" y="624" font-size="10" fill="#000" text-anchor="start" textLength="49" lengthAdjust="spacingAndGlyphs" stroke="#000" stroke-width="0.25">7 Feb 19:00</text>
<text x="903.7" y="624" font-size="10" fill="#000" text-anchor="start" textLength="49" lengthAdjust="spacingAndGlyphs" stroke="#000" stroke-width="0.25">9 Feb 00:00</text>
<g shape-rendering="crispEdges">
<rect x="217" y="634" width="88" height="19" fill="#fff"/>
<rect x="217" y="634" width="1" height="19" fill="#000"/>
<rect x="304" y="634" width="1" height="19" fill="#000"/>
<rect x="217" y="652" width="88" height="1" fill="#000"/>
<rect x="113" y="637" width="1" height="14" fill="#696969"/>
<rect x="409" y="637" width="1" height="14" fill="#696969"/>
<rect x="513" y="637" width="1" height="14" fill="#696969"/>
<rect x="609" y="637" width="1" height="14" fill="#696969"/>
<rect x="701" y="637" width="1" height="14" fill="#696969"/>
<rect x="817" y="637" width="1" height="14" fill="#696969"/>
<rect x="905" y="637" width="1" height="14" fill="#696969"/>
<rect x="1009" y="637" width="1" height="14" fill="#696969"/>
<rect x="1077" y="637" width="1" height="14" fill="#696969"/>
</g>
<text x="21.8" y="649" font-size="12.5" fill="#787878" text-anchor="start" textLength="78.3" lengthAdjust="spacingAndGlyphs" stroke="#787878" stroke-width="0.1">EURUSD,Daily</text>
<text x="124.4" y="649" font-size="12.5" fill="#787878" text-anchor="start" textLength="80.8" lengthAdjust="spacingAndGlyphs" stroke="#787878" stroke-width="0.1">AUDUSD,Daily</text>
<text x="227.6" y="649" font-size="12.5" fill="#000" text-anchor="start" textLength="66.2" lengthAdjust="spacingAndGlyphs" stroke="#000" stroke-width="0.2">USDCHF,H4</text>
<text x="316.7" y="649" font-size="12.5" fill="#787878" text-anchor="start" textLength="80.1" lengthAdjust="spacingAndGlyphs" stroke="#787878" stroke-width="0.1">USDCAD,Daily</text>
<text x="419.9" y="649" font-size="12.5" fill="#787878" text-anchor="start" textLength="81.8" lengthAdjust="spacingAndGlyphs" stroke="#787878" stroke-width="0.1">USDCNH,Daily</text>
<text x="523.4" y="649" font-size="12.5" fill="#787878" text-anchor="start" textLength="74.6" lengthAdjust="spacingAndGlyphs" stroke="#787878" stroke-width="0.1">USDJPY,Daily</text>
<text x="620.4" y="649" font-size="12.5" fill="#787878" text-anchor="start" textLength="68.4" lengthAdjust="spacingAndGlyphs" stroke="#787878" stroke-width="0.1">XAUUSD,H1</text>
<text x="712.4" y="649" font-size="12.5" fill="#787878" text-anchor="start" textLength="93.6" lengthAdjust="spacingAndGlyphs" stroke="#787878" stroke-width="0.1">GBPUSD,Weekly</text>
<text x="829.1" y="649" font-size="12.5" fill="#787878" text-anchor="start" textLength="63.4" lengthAdjust="spacingAndGlyphs" stroke="#787878" stroke-width="0.1">SP500,M15</text>
<text x="917.2" y="649" font-size="12.5" fill="#787878" text-anchor="start" textLength="79.6" lengthAdjust="spacingAndGlyphs" stroke="#787878" stroke-width="0.1">GBPUSD,Daily</text>
<text x="1019.4" y="649" font-size="12.5" fill="#787878" text-anchor="start" textLength="46.1" lengthAdjust="spacingAndGlyphs" stroke="#787878" stroke-width="0.1">DJ30,H4</text>
<text x="1087.5" y="649" font-size="12.5" fill="#787878" text-anchor="start" textLength="69.9" lengthAdjust="spacingAndGlyphs" stroke="#787878" stroke-width="0.1">TECH100,H1</text>
<path d="M1178 640v7l-4-3.5z" fill="#a0a0a0"/>
<path d="M1193 640v7l4-3.5z" fill="#000"/>
</svg>
</body></html>
